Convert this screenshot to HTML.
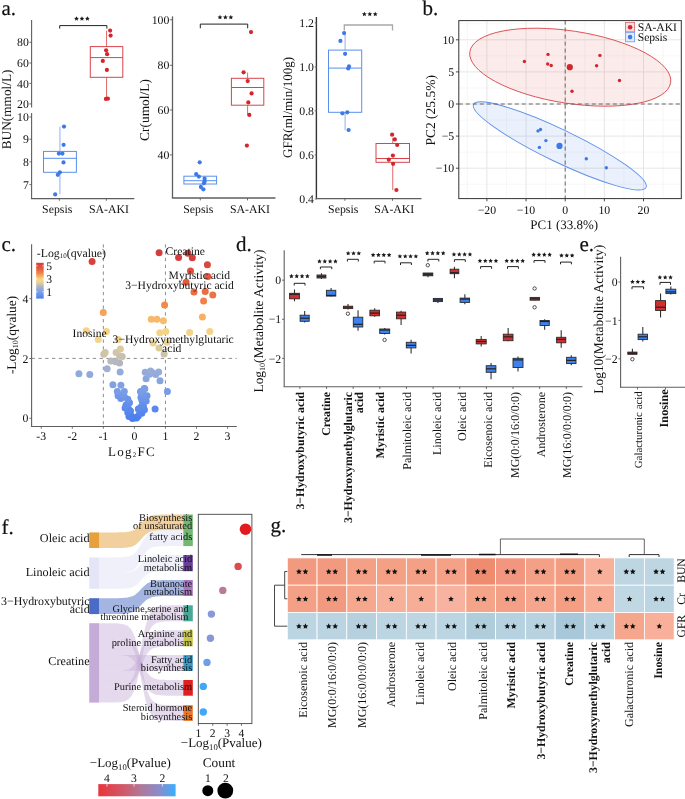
<!DOCTYPE html>
<html><head><meta charset="utf-8"><style>
html,body{margin:0;padding:0;background:#fff;}
svg{display:block;font-family:"Liberation Serif", serif;text-rendering:geometricPrecision;will-change:transform;}
</style></head><body>
<svg width="685" height="799" viewBox="0 0 685 799">
<rect width="685" height="799" fill="#ffffff"/>
<text x="1.50" y="14.60" font-size="21" text-anchor="start" fill="#111111" stroke="#1a1a1a" stroke-width="0.2">a.</text>
<line x1="31.60" y1="20.00" x2="31.60" y2="107.60" stroke="#5e5e5e" stroke-width="1.1"/>
<line x1="31.60" y1="113.10" x2="31.60" y2="198.60" stroke="#5e5e5e" stroke-width="1.1"/>
<line x1="31.00" y1="198.60" x2="134.30" y2="198.60" stroke="#5e5e5e" stroke-width="1.1"/>
<line x1="29.40" y1="42.30" x2="31.60" y2="42.30" stroke="#5e5e5e" stroke-width="0.9"/>
<text x="28.80" y="46.40" font-size="11.8" text-anchor="end" fill="#111111">80</text>
<line x1="29.40" y1="63.00" x2="31.60" y2="63.00" stroke="#5e5e5e" stroke-width="0.9"/>
<text x="28.80" y="67.10" font-size="11.8" text-anchor="end" fill="#111111">60</text>
<line x1="29.40" y1="83.40" x2="31.60" y2="83.40" stroke="#5e5e5e" stroke-width="0.9"/>
<text x="28.80" y="87.50" font-size="11.8" text-anchor="end" fill="#111111">40</text>
<line x1="29.40" y1="103.90" x2="31.60" y2="103.90" stroke="#5e5e5e" stroke-width="0.9"/>
<text x="28.80" y="108.00" font-size="11.8" text-anchor="end" fill="#111111">20</text>
<line x1="29.40" y1="117.00" x2="31.60" y2="117.00" stroke="#5e5e5e" stroke-width="0.9"/>
<text x="28.80" y="121.10" font-size="11.8" text-anchor="end" fill="#111111">10</text>
<line x1="29.40" y1="139.20" x2="31.60" y2="139.20" stroke="#5e5e5e" stroke-width="0.9"/>
<text x="28.80" y="143.30" font-size="11.8" text-anchor="end" fill="#111111">9</text>
<line x1="29.40" y1="161.90" x2="31.60" y2="161.90" stroke="#5e5e5e" stroke-width="0.9"/>
<text x="28.80" y="166.00" font-size="11.8" text-anchor="end" fill="#111111">8</text>
<line x1="29.40" y1="184.60" x2="31.60" y2="184.60" stroke="#5e5e5e" stroke-width="0.9"/>
<text x="28.80" y="188.70" font-size="11.8" text-anchor="end" fill="#111111">7</text>
<line x1="59.30" y1="198.60" x2="59.30" y2="200.80" stroke="#5e5e5e" stroke-width="0.9"/>
<line x1="106.30" y1="198.60" x2="106.30" y2="200.80" stroke="#5e5e5e" stroke-width="0.9"/>
<text x="57.20" y="213.00" font-size="11.8" text-anchor="middle" fill="#111111">Sepsis</text>
<text x="109.00" y="213.00" font-size="11.8" text-anchor="middle" fill="#111111">SA-AKI</text>
<text x="11.20" y="109.40" font-size="13.3" text-anchor="middle" fill="#111111" transform="rotate(-90 11.20 109.40)">BUN(mmol/L)</text>
<line x1="59.95" y1="126.60" x2="59.95" y2="151.40" stroke="#8db0f3" stroke-width="1.0"/>
<line x1="59.95" y1="172.30" x2="59.95" y2="194.40" stroke="#8db0f3" stroke-width="1.0"/>
<rect x="43.50" y="151.40" width="32.90" height="20.90" fill="none" stroke="#5a8fee" stroke-width="1.0"/>
<line x1="43.50" y1="158.30" x2="76.40" y2="158.30" stroke="#5a8fee" stroke-width="1.0"/>
<circle cx="64.00" cy="126.60" r="2.10" fill="#3d7ae6" stroke="none" stroke-width="1"/>
<circle cx="63.60" cy="144.80" r="2.10" fill="#3d7ae6" stroke="none" stroke-width="1"/>
<circle cx="58.90" cy="153.60" r="2.10" fill="#3d7ae6" stroke="none" stroke-width="1"/>
<circle cx="62.40" cy="153.60" r="2.10" fill="#3d7ae6" stroke="none" stroke-width="1"/>
<circle cx="63.50" cy="162.40" r="2.10" fill="#3d7ae6" stroke="none" stroke-width="1"/>
<circle cx="59.90" cy="172.30" r="2.10" fill="#3d7ae6" stroke="none" stroke-width="1"/>
<circle cx="57.80" cy="174.80" r="2.10" fill="#3d7ae6" stroke="none" stroke-width="1"/>
<circle cx="55.20" cy="194.40" r="2.10" fill="#3d7ae6" stroke="none" stroke-width="1"/>
<line x1="106.55" y1="30.70" x2="106.55" y2="46.60" stroke="#e0696d" stroke-width="1.0"/>
<line x1="106.55" y1="77.30" x2="106.55" y2="99.00" stroke="#e0696d" stroke-width="1.0"/>
<rect x="90.30" y="46.60" width="32.50" height="30.70" fill="none" stroke="#d8444a" stroke-width="1.0"/>
<line x1="90.30" y1="57.60" x2="122.80" y2="57.60" stroke="#d8444a" stroke-width="1.0"/>
<circle cx="110.10" cy="30.60" r="2.10" fill="#d3262b" stroke="none" stroke-width="1"/>
<circle cx="110.60" cy="35.60" r="2.10" fill="#d3262b" stroke="none" stroke-width="1"/>
<circle cx="106.10" cy="50.30" r="2.10" fill="#d3262b" stroke="none" stroke-width="1"/>
<circle cx="107.10" cy="54.20" r="2.10" fill="#d3262b" stroke="none" stroke-width="1"/>
<circle cx="102.80" cy="60.90" r="2.10" fill="#d3262b" stroke="none" stroke-width="1"/>
<circle cx="106.90" cy="69.90" r="2.10" fill="#d3262b" stroke="none" stroke-width="1"/>
<circle cx="105.90" cy="98.90" r="2.10" fill="#d3262b" stroke="none" stroke-width="1"/>
<circle cx="107.90" cy="98.70" r="2.10" fill="#d3262b" stroke="none" stroke-width="1"/>
<path d="M59.70,28.60 V25.60 H106.90 V28.60" fill="none" stroke="#222" stroke-width="1.0"/>
<polygon points="76.50,16.15 77.21,17.68 78.88,17.88 77.64,19.02 77.97,20.67 76.50,19.85 75.03,20.67 75.36,19.02 74.12,17.88 75.79,17.68" fill="#1a1a1a"/>
<polygon points="81.95,16.15 82.66,17.68 84.33,17.88 83.09,19.02 83.42,20.67 81.95,19.85 80.48,20.67 80.81,19.02 79.57,17.88 81.24,17.68" fill="#1a1a1a"/>
<polygon points="87.40,16.15 88.11,17.68 89.78,17.88 88.54,19.02 88.87,20.67 87.40,19.85 85.93,20.67 86.26,19.02 85.02,17.88 86.69,17.68" fill="#1a1a1a"/>
<line x1="172.50" y1="16.40" x2="172.50" y2="198.00" stroke="#5e5e5e" stroke-width="1.3"/>
<line x1="171.90" y1="198.00" x2="275.50" y2="198.00" stroke="#5e5e5e" stroke-width="1.3"/>
<line x1="169.80" y1="19.80" x2="172.00" y2="19.80" stroke="#5e5e5e" stroke-width="0.9"/>
<text x="169.40" y="23.90" font-size="11.8" text-anchor="end" fill="#111111">100</text>
<line x1="169.80" y1="65.30" x2="172.00" y2="65.30" stroke="#5e5e5e" stroke-width="0.9"/>
<text x="169.40" y="69.40" font-size="11.8" text-anchor="end" fill="#111111">80</text>
<line x1="169.80" y1="110.00" x2="172.00" y2="110.00" stroke="#5e5e5e" stroke-width="0.9"/>
<text x="169.40" y="114.10" font-size="11.8" text-anchor="end" fill="#111111">60</text>
<line x1="169.80" y1="154.90" x2="172.00" y2="154.90" stroke="#5e5e5e" stroke-width="0.9"/>
<text x="169.40" y="159.00" font-size="11.8" text-anchor="end" fill="#111111">40</text>
<line x1="200.30" y1="198.20" x2="200.30" y2="200.40" stroke="#5e5e5e" stroke-width="0.9"/>
<line x1="247.50" y1="198.20" x2="247.50" y2="200.40" stroke="#5e5e5e" stroke-width="0.9"/>
<text x="198.30" y="213.00" font-size="11.8" text-anchor="middle" fill="#111111">Sepsis</text>
<text x="249.90" y="213.00" font-size="11.8" text-anchor="middle" fill="#111111">SA-AKI</text>
<text x="148.60" y="110.00" font-size="13.4" text-anchor="middle" fill="#111111" transform="rotate(-90 148.60 110.00)">Cr(umol/L)</text>
<line x1="200.25" y1="176.20" x2="200.25" y2="176.20" stroke="#8db0f3" stroke-width="1.0"/>
<line x1="200.25" y1="184.00" x2="200.25" y2="189.30" stroke="#8db0f3" stroke-width="1.0"/>
<rect x="183.90" y="176.20" width="32.70" height="7.80" fill="none" stroke="#5a8fee" stroke-width="1.0"/>
<line x1="183.90" y1="180.70" x2="216.60" y2="180.70" stroke="#5a8fee" stroke-width="1.0"/>
<circle cx="199.70" cy="162.30" r="2.10" fill="#3d7ae6" stroke="none" stroke-width="1"/>
<circle cx="196.20" cy="174.20" r="2.10" fill="#3d7ae6" stroke="none" stroke-width="1"/>
<circle cx="198.90" cy="176.60" r="2.10" fill="#3d7ae6" stroke="none" stroke-width="1"/>
<circle cx="204.60" cy="178.70" r="2.10" fill="#3d7ae6" stroke="none" stroke-width="1"/>
<circle cx="204.60" cy="181.50" r="2.10" fill="#3d7ae6" stroke="none" stroke-width="1"/>
<circle cx="203.90" cy="183.20" r="2.10" fill="#3d7ae6" stroke="none" stroke-width="1"/>
<circle cx="200.90" cy="186.90" r="2.10" fill="#3d7ae6" stroke="none" stroke-width="1"/>
<circle cx="203.40" cy="189.30" r="2.10" fill="#3d7ae6" stroke="none" stroke-width="1"/>
<line x1="247.60" y1="72.60" x2="247.60" y2="78.30" stroke="#e0696d" stroke-width="1.0"/>
<line x1="247.60" y1="105.20" x2="247.60" y2="114.90" stroke="#e0696d" stroke-width="1.0"/>
<rect x="231.40" y="78.30" width="32.40" height="26.90" fill="none" stroke="#d8444a" stroke-width="1.0"/>
<line x1="231.40" y1="87.50" x2="263.80" y2="87.50" stroke="#d8444a" stroke-width="1.0"/>
<circle cx="251.00" cy="32.10" r="2.10" fill="#d3262b" stroke="none" stroke-width="1"/>
<circle cx="243.60" cy="72.30" r="2.10" fill="#d3262b" stroke="none" stroke-width="1"/>
<circle cx="247.70" cy="81.10" r="2.10" fill="#d3262b" stroke="none" stroke-width="1"/>
<circle cx="251.60" cy="93.40" r="2.10" fill="#d3262b" stroke="none" stroke-width="1"/>
<circle cx="248.30" cy="102.40" r="2.10" fill="#d3262b" stroke="none" stroke-width="1"/>
<circle cx="249.30" cy="114.90" r="2.10" fill="#d3262b" stroke="none" stroke-width="1"/>
<circle cx="246.90" cy="145.60" r="2.10" fill="#d3262b" stroke="none" stroke-width="1"/>
<path d="M200.30,28.30 V24.10 H247.70 V28.30" fill="none" stroke="#222" stroke-width="1.0"/>
<polygon points="219.95,14.85 220.66,16.38 222.33,16.58 221.09,17.72 221.42,19.37 219.95,18.55 218.48,19.37 218.81,17.72 217.57,16.58 219.24,16.38" fill="#1a1a1a"/>
<polygon points="225.40,14.85 226.11,16.38 227.78,16.58 226.54,17.72 226.87,19.37 225.40,18.55 223.93,19.37 224.26,17.72 223.02,16.58 224.69,16.38" fill="#1a1a1a"/>
<polygon points="230.85,14.85 231.56,16.38 233.23,16.58 231.99,17.72 232.32,19.37 230.85,18.55 229.38,19.37 229.71,17.72 228.47,16.58 230.14,16.38" fill="#1a1a1a"/>
<line x1="316.40" y1="17.00" x2="316.40" y2="198.60" stroke="#333" stroke-width="1.4"/>
<line x1="316.30" y1="198.60" x2="421.50" y2="198.60" stroke="#5e5e5e" stroke-width="1.1"/>
<line x1="314.70" y1="22.90" x2="316.90" y2="22.90" stroke="#5e5e5e" stroke-width="0.9"/>
<text x="314.00" y="27.00" font-size="11.8" text-anchor="end" fill="#111111">1.2</text>
<line x1="314.70" y1="67.00" x2="316.90" y2="67.00" stroke="#5e5e5e" stroke-width="0.9"/>
<text x="314.00" y="71.10" font-size="11.8" text-anchor="end" fill="#111111">1.0</text>
<line x1="314.70" y1="110.80" x2="316.90" y2="110.80" stroke="#5e5e5e" stroke-width="0.9"/>
<text x="314.00" y="114.90" font-size="11.8" text-anchor="end" fill="#111111">0.8</text>
<line x1="314.70" y1="154.90" x2="316.90" y2="154.90" stroke="#5e5e5e" stroke-width="0.9"/>
<text x="314.00" y="159.00" font-size="11.8" text-anchor="end" fill="#111111">0.6</text>
<line x1="314.70" y1="199.00" x2="316.90" y2="199.00" stroke="#5e5e5e" stroke-width="0.9"/>
<text x="314.00" y="203.10" font-size="11.8" text-anchor="end" fill="#111111">0.4</text>
<line x1="344.90" y1="198.60" x2="344.90" y2="200.80" stroke="#5e5e5e" stroke-width="0.9"/>
<line x1="392.50" y1="198.60" x2="392.50" y2="200.80" stroke="#5e5e5e" stroke-width="0.9"/>
<text x="343.20" y="213.00" font-size="11.8" text-anchor="middle" fill="#111111">Sepsis</text>
<text x="394.30" y="213.00" font-size="11.8" text-anchor="middle" fill="#111111">SA-AKI</text>
<text x="292.00" y="107.40" font-size="13" text-anchor="middle" fill="#111111" transform="rotate(-90 292.00 107.40)">GFR(ml/min/100g)</text>
<line x1="345.10" y1="32.70" x2="345.10" y2="50.10" stroke="#8db0f3" stroke-width="1.0"/>
<line x1="345.10" y1="112.30" x2="345.10" y2="130.20" stroke="#8db0f3" stroke-width="1.0"/>
<rect x="328.50" y="50.10" width="33.20" height="62.20" fill="none" stroke="#5a8fee" stroke-width="1.0"/>
<line x1="328.50" y1="68.10" x2="361.70" y2="68.10" stroke="#5a8fee" stroke-width="1.0"/>
<circle cx="344.10" cy="33.10" r="2.10" fill="#3d7ae6" stroke="none" stroke-width="1"/>
<circle cx="340.40" cy="40.90" r="2.10" fill="#3d7ae6" stroke="none" stroke-width="1"/>
<circle cx="345.10" cy="53.80" r="2.10" fill="#3d7ae6" stroke="none" stroke-width="1"/>
<circle cx="349.00" cy="66.40" r="2.10" fill="#3d7ae6" stroke="none" stroke-width="1"/>
<circle cx="348.20" cy="68.50" r="2.10" fill="#3d7ae6" stroke="none" stroke-width="1"/>
<circle cx="342.40" cy="113.30" r="2.10" fill="#3d7ae6" stroke="none" stroke-width="1"/>
<circle cx="347.30" cy="112.30" r="2.10" fill="#3d7ae6" stroke="none" stroke-width="1"/>
<circle cx="348.60" cy="130.00" r="2.10" fill="#3d7ae6" stroke="none" stroke-width="1"/>
<line x1="392.75" y1="137.80" x2="392.75" y2="143.50" stroke="#e0696d" stroke-width="1.0"/>
<line x1="392.75" y1="162.30" x2="392.75" y2="190.00" stroke="#e0696d" stroke-width="1.0"/>
<rect x="376.00" y="143.50" width="33.50" height="18.80" fill="none" stroke="#d8444a" stroke-width="1.0"/>
<line x1="376.00" y1="158.50" x2="409.50" y2="158.50" stroke="#d8444a" stroke-width="1.0"/>
<circle cx="392.10" cy="134.70" r="2.10" fill="#d3262b" stroke="none" stroke-width="1"/>
<circle cx="394.80" cy="139.40" r="2.10" fill="#d3262b" stroke="none" stroke-width="1"/>
<circle cx="397.20" cy="145.00" r="2.10" fill="#d3262b" stroke="none" stroke-width="1"/>
<circle cx="392.90" cy="155.60" r="2.10" fill="#d3262b" stroke="none" stroke-width="1"/>
<circle cx="388.80" cy="159.70" r="2.10" fill="#d3262b" stroke="none" stroke-width="1"/>
<circle cx="393.10" cy="163.80" r="2.10" fill="#d3262b" stroke="none" stroke-width="1"/>
<circle cx="396.40" cy="190.00" r="2.10" fill="#d3262b" stroke="none" stroke-width="1"/>
<path d="M344.30,30.40 V25.00 H392.50 V30.40" fill="none" stroke="#a8a8a8" stroke-width="1.3"/>
<polygon points="364.35,11.65 365.06,13.18 366.73,13.38 365.49,14.52 365.82,16.17 364.35,15.35 362.88,16.17 363.21,14.52 361.97,13.38 363.64,13.18" fill="#1a1a1a"/>
<polygon points="369.80,11.65 370.51,13.18 372.18,13.38 370.94,14.52 371.27,16.17 369.80,15.35 368.33,16.17 368.66,14.52 367.42,13.38 369.09,13.18" fill="#1a1a1a"/>
<polygon points="375.25,11.65 375.96,13.18 377.63,13.38 376.39,14.52 376.72,16.17 375.25,15.35 373.78,16.17 374.11,14.52 372.87,13.38 374.54,13.18" fill="#1a1a1a"/>
<text x="422.50" y="14.60" font-size="21" text-anchor="start" fill="#111111" stroke="#1a1a1a" stroke-width="0.2">b.</text>
<clipPath id="cb"><rect x="458.8" y="20.6" width="222.49999999999994" height="178.0"/></clipPath>
<rect x="458.80" y="20.60" width="222.50" height="178.00" fill="#ffffff" stroke="none" stroke-width="1"/>
<g clip-path="url(#cb)">
<line x1="467.33" y1="20.60" x2="467.33" y2="198.60" stroke="#f2f2f2" stroke-width="0.6"/>
<line x1="506.48" y1="20.60" x2="506.48" y2="198.60" stroke="#f2f2f2" stroke-width="0.6"/>
<line x1="545.62" y1="20.60" x2="545.62" y2="198.60" stroke="#f2f2f2" stroke-width="0.6"/>
<line x1="584.78" y1="20.60" x2="584.78" y2="198.60" stroke="#f2f2f2" stroke-width="0.6"/>
<line x1="623.93" y1="20.60" x2="623.93" y2="198.60" stroke="#f2f2f2" stroke-width="0.6"/>
<line x1="663.08" y1="20.60" x2="663.08" y2="198.60" stroke="#f2f2f2" stroke-width="0.6"/>
<line x1="458.80" y1="23.75" x2="681.30" y2="23.75" stroke="#f2f2f2" stroke-width="0.6"/>
<line x1="458.80" y1="55.85" x2="681.30" y2="55.85" stroke="#f2f2f2" stroke-width="0.6"/>
<line x1="458.80" y1="87.95" x2="681.30" y2="87.95" stroke="#f2f2f2" stroke-width="0.6"/>
<line x1="458.80" y1="120.05" x2="681.30" y2="120.05" stroke="#f2f2f2" stroke-width="0.6"/>
<line x1="458.80" y1="152.15" x2="681.30" y2="152.15" stroke="#f2f2f2" stroke-width="0.6"/>
<line x1="458.80" y1="184.25" x2="681.30" y2="184.25" stroke="#f2f2f2" stroke-width="0.6"/>
<line x1="486.90" y1="20.60" x2="486.90" y2="198.60" stroke="#e6e6e6" stroke-width="1.0"/>
<line x1="526.05" y1="20.60" x2="526.05" y2="198.60" stroke="#e6e6e6" stroke-width="1.0"/>
<line x1="565.20" y1="20.60" x2="565.20" y2="198.60" stroke="#e6e6e6" stroke-width="1.0"/>
<line x1="604.35" y1="20.60" x2="604.35" y2="198.60" stroke="#e6e6e6" stroke-width="1.0"/>
<line x1="643.50" y1="20.60" x2="643.50" y2="198.60" stroke="#e6e6e6" stroke-width="1.0"/>
<line x1="458.80" y1="39.80" x2="681.30" y2="39.80" stroke="#e6e6e6" stroke-width="1.0"/>
<line x1="458.80" y1="71.90" x2="681.30" y2="71.90" stroke="#e6e6e6" stroke-width="1.0"/>
<line x1="458.80" y1="104.00" x2="681.30" y2="104.00" stroke="#e6e6e6" stroke-width="1.0"/>
<line x1="458.80" y1="136.10" x2="681.30" y2="136.10" stroke="#e6e6e6" stroke-width="1.0"/>
<line x1="458.80" y1="168.20" x2="681.30" y2="168.20" stroke="#e6e6e6" stroke-width="1.0"/>
<ellipse cx="570.25" cy="67.2" rx="101.6" ry="36.2" transform="rotate(8.77 570.25 67.2)" fill="#d3262b" fill-opacity="0.095" stroke="#de4a4e" stroke-width="0.9"/>
<ellipse cx="559.8" cy="145.9" rx="95.7" ry="16.2" transform="rotate(25.7 559.8 145.9)" fill="#3d7ae6" fill-opacity="0.11" stroke="#5b8fea" stroke-width="0.9"/>
<line x1="565.20" y1="20.60" x2="565.20" y2="198.60" stroke="#5a5a5a" stroke-width="0.9" stroke-dasharray="4 3"/>
<line x1="458.80" y1="104.00" x2="681.30" y2="104.00" stroke="#5a5a5a" stroke-width="0.9" stroke-dasharray="4 3"/>
<circle cx="524.40" cy="61.50" r="1.70" fill="#d3262b" stroke="none" stroke-width="1"/>
<circle cx="548.00" cy="54.40" r="1.70" fill="#d3262b" stroke="none" stroke-width="1"/>
<circle cx="547.70" cy="64.00" r="1.70" fill="#d3262b" stroke="none" stroke-width="1"/>
<circle cx="551.20" cy="65.50" r="1.70" fill="#d3262b" stroke="none" stroke-width="1"/>
<circle cx="599.90" cy="55.40" r="1.70" fill="#d3262b" stroke="none" stroke-width="1"/>
<circle cx="596.60" cy="65.80" r="1.70" fill="#d3262b" stroke="none" stroke-width="1"/>
<circle cx="619.50" cy="80.50" r="1.70" fill="#d3262b" stroke="none" stroke-width="1"/>
<circle cx="572.00" cy="91.20" r="1.70" fill="#d3262b" stroke="none" stroke-width="1"/>
<circle cx="569.80" cy="67.20" r="3.10" fill="#d3262b" stroke="none" stroke-width="1"/>
<circle cx="538.00" cy="130.90" r="1.70" fill="#3d7ae6" stroke="none" stroke-width="1"/>
<circle cx="540.50" cy="129.50" r="1.70" fill="#3d7ae6" stroke="none" stroke-width="1"/>
<circle cx="545.90" cy="140.60" r="1.70" fill="#3d7ae6" stroke="none" stroke-width="1"/>
<circle cx="539.40" cy="147.40" r="1.70" fill="#3d7ae6" stroke="none" stroke-width="1"/>
<circle cx="586.30" cy="158.80" r="1.70" fill="#3d7ae6" stroke="none" stroke-width="1"/>
<circle cx="606.30" cy="167.70" r="1.70" fill="#3d7ae6" stroke="none" stroke-width="1"/>
<circle cx="559.50" cy="145.90" r="3.10" fill="#3d7ae6" stroke="none" stroke-width="1"/>
<rect x="625.50" y="22.40" width="9.10" height="9.50" fill="#f9dede" stroke="#e07072" stroke-width="0.9"/>
<circle cx="630.10" cy="27.20" r="2.30" fill="#d3262b" stroke="none" stroke-width="1"/>
<rect x="625.50" y="32.40" width="9.10" height="9.40" fill="#e2eafb" stroke="#7aa4f0" stroke-width="0.9"/>
<circle cx="630.10" cy="37.10" r="2.30" fill="#3d7ae6" stroke="none" stroke-width="1"/>
</g>
<rect x="458.80" y="20.60" width="222.50" height="178.00" fill="none" stroke="#333" stroke-width="1.0"/>
<text x="637.70" y="31.40" font-size="11.6" text-anchor="start" fill="#111111">SA-AKI</text>
<text x="637.70" y="40.60" font-size="11.6" text-anchor="start" fill="#111111">Sepsis</text>
<line x1="455.90" y1="39.80" x2="458.80" y2="39.80" stroke="#333" stroke-width="0.9"/>
<text x="454.20" y="43.90" font-size="11.8" text-anchor="end" fill="#111111">10</text>
<line x1="455.90" y1="71.90" x2="458.80" y2="71.90" stroke="#333" stroke-width="0.9"/>
<text x="454.20" y="76.00" font-size="11.8" text-anchor="end" fill="#111111">5</text>
<line x1="455.90" y1="104.00" x2="458.80" y2="104.00" stroke="#333" stroke-width="0.9"/>
<text x="454.20" y="108.10" font-size="11.8" text-anchor="end" fill="#111111">0</text>
<line x1="455.90" y1="136.10" x2="458.80" y2="136.10" stroke="#333" stroke-width="0.9"/>
<text x="454.20" y="140.20" font-size="11.8" text-anchor="end" fill="#111111">&#8722;5</text>
<line x1="455.90" y1="168.20" x2="458.80" y2="168.20" stroke="#333" stroke-width="0.9"/>
<text x="454.20" y="172.30" font-size="11.8" text-anchor="end" fill="#111111">&#8722;10</text>
<line x1="486.90" y1="198.60" x2="486.90" y2="201.30" stroke="#333" stroke-width="0.9"/>
<text x="486.90" y="213.70" font-size="11.8" text-anchor="middle" fill="#111111">&#8722;20</text>
<line x1="526.05" y1="198.60" x2="526.05" y2="201.30" stroke="#333" stroke-width="0.9"/>
<text x="526.05" y="213.70" font-size="11.8" text-anchor="middle" fill="#111111">&#8722;10</text>
<line x1="565.20" y1="198.60" x2="565.20" y2="201.30" stroke="#333" stroke-width="0.9"/>
<text x="565.20" y="213.70" font-size="11.8" text-anchor="middle" fill="#111111">0</text>
<line x1="604.35" y1="198.60" x2="604.35" y2="201.30" stroke="#333" stroke-width="0.9"/>
<text x="604.35" y="213.70" font-size="11.8" text-anchor="middle" fill="#111111">10</text>
<line x1="643.50" y1="198.60" x2="643.50" y2="201.30" stroke="#333" stroke-width="0.9"/>
<text x="643.50" y="213.70" font-size="11.8" text-anchor="middle" fill="#111111">20</text>
<text x="564.20" y="228.90" font-size="13" text-anchor="middle" fill="#111111">PC1 (33.8%)</text>
<text x="434.70" y="110.30" font-size="13.5" text-anchor="middle" fill="#111111" transform="rotate(-90 434.70 110.30)">PC2 (25.5%)</text>
<text x="1.50" y="250.90" font-size="21" text-anchor="start" fill="#111111" stroke="#1a1a1a" stroke-width="0.2">c.</text>
<line x1="31.60" y1="244.30" x2="31.60" y2="426.50" stroke="#5e5e5e" stroke-width="1.1"/>
<line x1="31.00" y1="426.50" x2="236.80" y2="426.50" stroke="#5e5e5e" stroke-width="1.1"/>
<line x1="29.40" y1="418.30" x2="31.60" y2="418.30" stroke="#5e5e5e" stroke-width="0.9"/>
<text x="28.40" y="422.40" font-size="11.8" text-anchor="end" fill="#111111">0</text>
<line x1="29.40" y1="358.50" x2="31.60" y2="358.50" stroke="#5e5e5e" stroke-width="0.9"/>
<text x="28.40" y="362.60" font-size="11.8" text-anchor="end" fill="#111111">2</text>
<line x1="29.40" y1="298.70" x2="31.60" y2="298.70" stroke="#5e5e5e" stroke-width="0.9"/>
<text x="28.40" y="302.80" font-size="11.8" text-anchor="end" fill="#111111">4</text>
<line x1="41.25" y1="426.50" x2="41.25" y2="428.70" stroke="#5e5e5e" stroke-width="0.9"/>
<text x="41.25" y="440.20" font-size="11.8" text-anchor="middle" fill="#111111">-3</text>
<line x1="72.30" y1="426.50" x2="72.30" y2="428.70" stroke="#5e5e5e" stroke-width="0.9"/>
<text x="72.30" y="440.20" font-size="11.8" text-anchor="middle" fill="#111111">-2</text>
<line x1="103.35" y1="426.50" x2="103.35" y2="428.70" stroke="#5e5e5e" stroke-width="0.9"/>
<text x="103.35" y="440.20" font-size="11.8" text-anchor="middle" fill="#111111">-1</text>
<line x1="134.40" y1="426.50" x2="134.40" y2="428.70" stroke="#5e5e5e" stroke-width="0.9"/>
<text x="134.40" y="440.20" font-size="11.8" text-anchor="middle" fill="#111111">0</text>
<line x1="165.45" y1="426.50" x2="165.45" y2="428.70" stroke="#5e5e5e" stroke-width="0.9"/>
<text x="165.45" y="440.20" font-size="11.8" text-anchor="middle" fill="#111111">1</text>
<line x1="196.50" y1="426.50" x2="196.50" y2="428.70" stroke="#5e5e5e" stroke-width="0.9"/>
<text x="196.50" y="440.20" font-size="11.8" text-anchor="middle" fill="#111111">2</text>
<line x1="227.55" y1="426.50" x2="227.55" y2="428.70" stroke="#5e5e5e" stroke-width="0.9"/>
<text x="227.55" y="440.20" font-size="11.8" text-anchor="middle" fill="#111111">3</text>
<text x="132.00" y="455.80" font-size="13" text-anchor="middle" fill="#111111" letter-spacing="1.3">Log<tspan font-size="7" dy="1.5">2</tspan><tspan dy="-1.5">FC</tspan></text>
<text x="15.80" y="335.00" font-size="13.3" text-anchor="middle" fill="#111111" transform="rotate(-90 15.80 335.00)">-Log<tspan font-size="8" dy="2">10</tspan><tspan dy="-2">(qvalue)</tspan></text>
<line x1="103.35" y1="244.30" x2="103.35" y2="426.50" stroke="#808080" stroke-width="0.9" stroke-dasharray="3.3 3.5"/>
<line x1="165.45" y1="244.30" x2="165.45" y2="426.50" stroke="#808080" stroke-width="0.9" stroke-dasharray="3.3 3.5"/>
<line x1="31.60" y1="358.40" x2="236.80" y2="358.40" stroke="#808080" stroke-width="0.9" stroke-dasharray="3.3 3.5"/>
<circle cx="132.50" cy="418.50" r="3.50" fill="#4a7eef" stroke="none" stroke-width="1"/>
<circle cx="136.50" cy="418.00" r="3.50" fill="#4b7eef" stroke="none" stroke-width="1"/>
<circle cx="134.80" cy="417.70" r="3.50" fill="#4b7fef" stroke="none" stroke-width="1"/>
<circle cx="129.00" cy="416.50" r="3.50" fill="#4d80ee" stroke="none" stroke-width="1"/>
<circle cx="131.30" cy="415.90" r="3.50" fill="#4e81ee" stroke="none" stroke-width="1"/>
<circle cx="138.30" cy="415.90" r="3.50" fill="#4e81ee" stroke="none" stroke-width="1"/>
<circle cx="141.80" cy="413.30" r="3.50" fill="#5384ed" stroke="none" stroke-width="1"/>
<circle cx="127.80" cy="412.40" r="3.50" fill="#5485ed" stroke="none" stroke-width="1"/>
<circle cx="139.80" cy="412.00" r="3.50" fill="#5585ed" stroke="none" stroke-width="1"/>
<circle cx="130.50" cy="411.00" r="3.50" fill="#5686ed" stroke="none" stroke-width="1"/>
<circle cx="144.40" cy="409.80" r="3.50" fill="#5987ec" stroke="none" stroke-width="1"/>
<circle cx="155.10" cy="408.90" r="3.50" fill="#5a88ec" stroke="none" stroke-width="1"/>
<circle cx="128.60" cy="408.90" r="3.50" fill="#5a88ec" stroke="none" stroke-width="1"/>
<circle cx="138.30" cy="408.90" r="3.50" fill="#5a88ec" stroke="none" stroke-width="1"/>
<circle cx="125.10" cy="408.00" r="3.50" fill="#5c89ec" stroke="none" stroke-width="1"/>
<circle cx="141.00" cy="407.00" r="3.50" fill="#5d8beb" stroke="none" stroke-width="1"/>
<circle cx="143.50" cy="406.50" r="3.50" fill="#5e8beb" stroke="none" stroke-width="1"/>
<circle cx="126.00" cy="405.00" r="3.50" fill="#618deb" stroke="none" stroke-width="1"/>
<circle cx="142.70" cy="404.50" r="3.50" fill="#628dea" stroke="none" stroke-width="1"/>
<circle cx="129.50" cy="402.80" r="3.50" fill="#648fea" stroke="none" stroke-width="1"/>
<circle cx="146.20" cy="401.00" r="3.50" fill="#6891e9" stroke="none" stroke-width="1"/>
<circle cx="142.00" cy="400.50" r="3.50" fill="#6892e9" stroke="none" stroke-width="1"/>
<circle cx="127.80" cy="399.30" r="3.50" fill="#6a93e9" stroke="none" stroke-width="1"/>
<circle cx="120.80" cy="398.40" r="3.50" fill="#6c94e8" stroke="none" stroke-width="1"/>
<circle cx="145.50" cy="398.00" r="3.50" fill="#6d95e8" stroke="none" stroke-width="1"/>
<circle cx="140.90" cy="397.50" r="3.50" fill="#6e95e8" stroke="none" stroke-width="1"/>
<circle cx="124.50" cy="397.00" r="3.50" fill="#6e96e8" stroke="none" stroke-width="1"/>
<circle cx="118.10" cy="395.80" r="3.50" fill="#7097e7" stroke="none" stroke-width="1"/>
<circle cx="147.00" cy="395.80" r="3.50" fill="#7097e7" stroke="none" stroke-width="1"/>
<circle cx="122.50" cy="394.50" r="3.50" fill="#7399e7" stroke="none" stroke-width="1"/>
<circle cx="143.00" cy="394.00" r="3.50" fill="#7499e7" stroke="none" stroke-width="1"/>
<circle cx="140.50" cy="391.80" r="3.50" fill="#779ce6" stroke="none" stroke-width="1"/>
<circle cx="167.40" cy="391.50" r="3.50" fill="#789ce6" stroke="none" stroke-width="1"/>
<circle cx="117.30" cy="391.40" r="3.50" fill="#789ce6" stroke="none" stroke-width="1"/>
<circle cx="124.30" cy="391.40" r="3.50" fill="#789ce6" stroke="none" stroke-width="1"/>
<circle cx="140.90" cy="391.40" r="3.50" fill="#789ce6" stroke="none" stroke-width="1"/>
<circle cx="144.80" cy="388.80" r="3.50" fill="#7c9ee4" stroke="none" stroke-width="1"/>
<circle cx="144.30" cy="388.60" r="3.50" fill="#7c9ee4" stroke="none" stroke-width="1"/>
<circle cx="120.90" cy="385.30" r="3.50" fill="#81a1e2" stroke="none" stroke-width="1"/>
<circle cx="112.90" cy="384.80" r="3.50" fill="#82a1e2" stroke="none" stroke-width="1"/>
<circle cx="160.00" cy="380.70" r="3.50" fill="#88a4df" stroke="none" stroke-width="1"/>
<circle cx="146.10" cy="378.70" r="3.50" fill="#8ba6de" stroke="none" stroke-width="1"/>
<circle cx="155.70" cy="374.60" r="3.50" fill="#91a9dc" stroke="none" stroke-width="1"/>
<circle cx="89.80" cy="374.40" r="3.50" fill="#91a9dc" stroke="none" stroke-width="1"/>
<circle cx="149.60" cy="374.30" r="3.50" fill="#92a9db" stroke="none" stroke-width="1"/>
<circle cx="78.90" cy="373.70" r="3.50" fill="#92aadb" stroke="none" stroke-width="1"/>
<circle cx="152.20" cy="372.60" r="3.50" fill="#94abda" stroke="none" stroke-width="1"/>
<circle cx="145.20" cy="372.30" r="3.50" fill="#94abda" stroke="none" stroke-width="1"/>
<circle cx="120.10" cy="372.00" r="3.50" fill="#95abda" stroke="none" stroke-width="1"/>
<circle cx="158.60" cy="372.00" r="3.50" fill="#95abda" stroke="none" stroke-width="1"/>
<circle cx="150.50" cy="371.10" r="3.50" fill="#98acd8" stroke="none" stroke-width="1"/>
<circle cx="107.10" cy="368.80" r="3.50" fill="#a0afd2" stroke="none" stroke-width="1"/>
<circle cx="119.60" cy="363.10" r="3.50" fill="#b3b6c2" stroke="none" stroke-width="1"/>
<circle cx="115.70" cy="361.70" r="3.50" fill="#b7b8bf" stroke="none" stroke-width="1"/>
<circle cx="110.80" cy="361.00" r="3.50" fill="#b9b9bd" stroke="none" stroke-width="1"/>
<circle cx="122.20" cy="356.40" r="3.50" fill="#c6bfb0" stroke="none" stroke-width="1"/>
<circle cx="119.60" cy="356.00" r="3.50" fill="#c7c0af" stroke="none" stroke-width="1"/>
<circle cx="103.80" cy="354.30" r="3.50" fill="#cbc2ab" stroke="none" stroke-width="1"/>
<circle cx="164.10" cy="354.00" r="3.50" fill="#ccc3aa" stroke="none" stroke-width="1"/>
<circle cx="105.20" cy="352.60" r="3.50" fill="#d0c5a6" stroke="none" stroke-width="1"/>
<circle cx="116.10" cy="352.60" r="3.50" fill="#d0c5a6" stroke="none" stroke-width="1"/>
<circle cx="120.40" cy="349.00" r="3.50" fill="#daca9e" stroke="none" stroke-width="1"/>
<circle cx="159.00" cy="347.90" r="3.50" fill="#ddcb9c" stroke="none" stroke-width="1"/>
<circle cx="153.00" cy="343.00" r="3.50" fill="#ebd291" stroke="none" stroke-width="1"/>
<circle cx="167.00" cy="342.30" r="3.50" fill="#edd390" stroke="none" stroke-width="1"/>
<circle cx="98.20" cy="339.40" r="3.50" fill="#f2d58b" stroke="none" stroke-width="1"/>
<circle cx="118.30" cy="339.40" r="3.50" fill="#f2d58b" stroke="none" stroke-width="1"/>
<circle cx="159.80" cy="332.80" r="3.50" fill="#f5d386" stroke="none" stroke-width="1"/>
<circle cx="189.60" cy="332.40" r="3.50" fill="#f5d385" stroke="none" stroke-width="1"/>
<circle cx="106.40" cy="331.50" r="3.50" fill="#f5d384" stroke="none" stroke-width="1"/>
<circle cx="165.80" cy="331.40" r="3.50" fill="#f5d384" stroke="none" stroke-width="1"/>
<circle cx="209.80" cy="331.40" r="3.50" fill="#f5d384" stroke="none" stroke-width="1"/>
<circle cx="86.30" cy="330.70" r="3.50" fill="#f5d384" stroke="none" stroke-width="1"/>
<circle cx="163.40" cy="320.80" r="3.50" fill="#f7bc6d" stroke="none" stroke-width="1"/>
<circle cx="151.30" cy="319.30" r="3.50" fill="#f8b869" stroke="none" stroke-width="1"/>
<circle cx="156.90" cy="319.30" r="3.50" fill="#f8b869" stroke="none" stroke-width="1"/>
<circle cx="202.40" cy="317.10" r="3.50" fill="#f8b163" stroke="none" stroke-width="1"/>
<circle cx="103.30" cy="312.60" r="3.50" fill="#f6a35a" stroke="none" stroke-width="1"/>
<circle cx="164.60" cy="305.00" r="3.50" fill="#f28a4b" stroke="none" stroke-width="1"/>
<circle cx="203.60" cy="301.10" r="3.50" fill="#f08148" stroke="none" stroke-width="1"/>
<circle cx="212.80" cy="294.90" r="3.50" fill="#ec7444" stroke="none" stroke-width="1"/>
<circle cx="194.00" cy="291.90" r="3.50" fill="#eb6e43" stroke="none" stroke-width="1"/>
<circle cx="205.20" cy="291.60" r="3.50" fill="#eb6d43" stroke="none" stroke-width="1"/>
<circle cx="186.10" cy="282.30" r="3.50" fill="#e55a3e" stroke="none" stroke-width="1"/>
<circle cx="207.80" cy="276.50" r="3.50" fill="#e1543e" stroke="none" stroke-width="1"/>
<circle cx="190.50" cy="270.90" r="3.50" fill="#dd4e3e" stroke="none" stroke-width="1"/>
<circle cx="207.40" cy="264.70" r="3.50" fill="#d9473e" stroke="none" stroke-width="1"/>
<circle cx="92.10" cy="261.60" r="3.50" fill="#d6433e" stroke="none" stroke-width="1"/>
<circle cx="192.30" cy="257.70" r="3.50" fill="#d43f3e" stroke="none" stroke-width="1"/>
<circle cx="178.60" cy="257.50" r="3.50" fill="#d43e3e" stroke="none" stroke-width="1"/>
<circle cx="187.80" cy="253.30" r="3.50" fill="#d23c3e" stroke="none" stroke-width="1"/>
<circle cx="159.10" cy="252.70" r="3.50" fill="#d23c3e" stroke="none" stroke-width="1"/>
<text x="165.60" y="254.90" font-size="11.6" text-anchor="start" fill="#111111">Creatine</text>
<text x="168.60" y="279.20" font-size="11.6" text-anchor="start" fill="#111111">Myristic acid</text>
<text x="125.20" y="288.70" font-size="11.6" text-anchor="start" fill="#111111">3&#8722;Hydroxybutyric acid</text>
<text x="72.60" y="336.80" font-size="11.6" text-anchor="start" fill="#111111">Inosine</text>
<text x="112.60" y="342.90" font-size="11.6" text-anchor="start" fill="#111111">3&#8722;Hydroxymethylglutaric</text>
<text x="162.10" y="352.40" font-size="11.6" text-anchor="start" fill="#111111">acid</text>
<text x="36.80" y="256.70" font-size="11.8" text-anchor="start" fill="#111111">-Log<tspan font-size="7" dy="0.8">10</tspan><tspan dy="-0.8">(qvalue)</tspan></text>
<linearGradient id="gq" x1="0" y1="1" x2="0" y2="0"><stop offset="0.000" stop-color="#4a7eef"/><stop offset="0.166" stop-color="#789ce6"/><stop offset="0.285" stop-color="#95abda"/><stop offset="0.350" stop-color="#b8b8be"/><stop offset="0.405" stop-color="#d0c5a6"/><stop offset="0.479" stop-color="#f2d58c"/><stop offset="0.552" stop-color="#f6d282"/><stop offset="0.626" stop-color="#f8b062"/><stop offset="0.700" stop-color="#f2894a"/><stop offset="0.829" stop-color="#e65c3e"/><stop offset="1.000" stop-color="#d23d3e"/></linearGradient>
<rect x="36.20" y="262.80" width="7.50" height="35.80" fill="url(#gq)" stroke="none" stroke-width="1"/>
<line x1="36.20" y1="265.80" x2="37.60" y2="265.80" stroke="#ffffff" stroke-width="0.7"/>
<line x1="42.30" y1="265.80" x2="43.70" y2="265.80" stroke="#ffffff" stroke-width="0.7"/>
<text x="46.20" y="269.80" font-size="11.6" text-anchor="start" fill="#111111">5</text>
<line x1="36.20" y1="278.80" x2="37.60" y2="278.80" stroke="#ffffff" stroke-width="0.7"/>
<line x1="42.30" y1="278.80" x2="43.70" y2="278.80" stroke="#ffffff" stroke-width="0.7"/>
<text x="46.20" y="282.80" font-size="11.6" text-anchor="start" fill="#111111">3</text>
<line x1="36.20" y1="291.80" x2="37.60" y2="291.80" stroke="#ffffff" stroke-width="0.7"/>
<line x1="42.30" y1="291.80" x2="43.70" y2="291.80" stroke="#ffffff" stroke-width="0.7"/>
<text x="46.20" y="295.80" font-size="11.6" text-anchor="start" fill="#111111">1</text>
<text x="236.00" y="250.90" font-size="21" text-anchor="start" fill="#111111" stroke="#1a1a1a" stroke-width="0.2">d.</text>
<line x1="284.20" y1="250.20" x2="284.20" y2="386.80" stroke="#5e5e5e" stroke-width="1.1"/>
<line x1="283.60" y1="386.80" x2="582.40" y2="386.80" stroke="#5e5e5e" stroke-width="1.1"/>
<line x1="282.00" y1="280.20" x2="284.20" y2="280.20" stroke="#5e5e5e" stroke-width="0.9"/>
<text x="281.20" y="284.30" font-size="11.8" text-anchor="end" fill="#111111">0</text>
<line x1="282.00" y1="319.30" x2="284.20" y2="319.30" stroke="#5e5e5e" stroke-width="0.9"/>
<text x="281.20" y="323.40" font-size="11.8" text-anchor="end" fill="#111111">&#8722;1</text>
<line x1="282.00" y1="358.40" x2="284.20" y2="358.40" stroke="#5e5e5e" stroke-width="0.9"/>
<text x="281.20" y="362.50" font-size="11.8" text-anchor="end" fill="#111111">&#8722;2</text>
<text x="262.60" y="321.00" font-size="13.4" text-anchor="middle" fill="#111111" transform="rotate(-90 262.60 321.00)">Log<tspan font-size="8" dy="2">10</tspan><tspan dy="-2">(Metabolite Activity)</tspan></text>
<line x1="294.50" y1="289.40" x2="294.50" y2="301.30" stroke="#333" stroke-width="1.1"/>
<rect x="289.60" y="293.30" width="9.80" height="5.50" fill="#d42d2d" stroke="#2a2a2a" stroke-width="0.9"/>
<line x1="289.60" y1="294.30" x2="299.40" y2="294.30" stroke="#222" stroke-width="1.2"/>
<line x1="304.65" y1="311.00" x2="304.65" y2="322.50" stroke="#333" stroke-width="1.1"/>
<rect x="300.10" y="315.20" width="9.10" height="6.10" fill="#3c82f0" stroke="#2a2a2a" stroke-width="0.9"/>
<line x1="300.10" y1="318.20" x2="309.20" y2="318.20" stroke="#222" stroke-width="1.2"/>
<line x1="321.45" y1="273.30" x2="321.45" y2="279.00" stroke="#333" stroke-width="1.1"/>
<rect x="317.00" y="275.00" width="8.90" height="3.00" fill="#a02a2a" stroke="#2a2a2a" stroke-width="0.9"/>
<line x1="317.00" y1="276.50" x2="325.90" y2="276.50" stroke="#222" stroke-width="0.8"/>
<line x1="331.10" y1="288.00" x2="331.10" y2="296.50" stroke="#333" stroke-width="1.1"/>
<rect x="326.40" y="290.30" width="9.40" height="5.80" fill="#3c82f0" stroke="#2a2a2a" stroke-width="0.9"/>
<line x1="326.40" y1="295.40" x2="335.80" y2="295.40" stroke="#222" stroke-width="1.2"/>
<line x1="348.05" y1="304.10" x2="348.05" y2="309.50" stroke="#333" stroke-width="1.1"/>
<rect x="343.40" y="306.20" width="9.30" height="2.40" fill="#b83030" stroke="#2a2a2a" stroke-width="0.9"/>
<line x1="343.40" y1="307.30" x2="352.70" y2="307.30" stroke="#222" stroke-width="0.8"/>
<circle cx="347.90" cy="313.70" r="1.70" fill="none" stroke="#333" stroke-width="0.85"/>
<line x1="358.05" y1="310.20" x2="358.05" y2="330.70" stroke="#333" stroke-width="1.1"/>
<rect x="353.30" y="317.20" width="9.50" height="9.80" fill="#3c82f0" stroke="#2a2a2a" stroke-width="0.9"/>
<line x1="353.30" y1="324.30" x2="362.80" y2="324.30" stroke="#222" stroke-width="1.2"/>
<line x1="374.70" y1="308.20" x2="374.70" y2="316.80" stroke="#333" stroke-width="1.1"/>
<rect x="369.90" y="310.20" width="9.60" height="5.60" fill="#d42d2d" stroke="#2a2a2a" stroke-width="0.9"/>
<line x1="369.90" y1="313.10" x2="379.50" y2="313.10" stroke="#222" stroke-width="1.2"/>
<line x1="384.70" y1="328.00" x2="384.70" y2="334.50" stroke="#333" stroke-width="1.1"/>
<rect x="379.70" y="329.00" width="10.00" height="4.50" fill="#3c82f0" stroke="#2a2a2a" stroke-width="0.9"/>
<line x1="379.70" y1="330.00" x2="389.70" y2="330.00" stroke="#222" stroke-width="1.2"/>
<circle cx="384.60" cy="339.90" r="1.70" fill="none" stroke="#333" stroke-width="0.85"/>
<line x1="401.10" y1="310.70" x2="401.10" y2="325.00" stroke="#333" stroke-width="1.1"/>
<rect x="396.50" y="312.10" width="9.20" height="6.70" fill="#d42d2d" stroke="#2a2a2a" stroke-width="0.9"/>
<line x1="396.50" y1="315.20" x2="405.70" y2="315.20" stroke="#222" stroke-width="1.2"/>
<line x1="411.10" y1="339.70" x2="411.10" y2="353.60" stroke="#333" stroke-width="1.1"/>
<rect x="406.30" y="342.30" width="9.60" height="5.60" fill="#3c82f0" stroke="#2a2a2a" stroke-width="0.9"/>
<line x1="406.30" y1="345.40" x2="415.90" y2="345.40" stroke="#222" stroke-width="1.2"/>
<line x1="427.95" y1="273.00" x2="427.95" y2="277.30" stroke="#333" stroke-width="1.1"/>
<rect x="423.10" y="273.00" width="9.70" height="2.80" fill="#3a3a3a" stroke="#2a2a2a" stroke-width="0.9"/>
<line x1="423.10" y1="274.40" x2="432.80" y2="274.40" stroke="#222" stroke-width="0.8"/>
<circle cx="427.80" cy="265.20" r="1.70" fill="none" stroke="#333" stroke-width="0.85"/>
<line x1="437.90" y1="298.00" x2="437.90" y2="303.00" stroke="#333" stroke-width="1.1"/>
<rect x="433.30" y="298.40" width="9.20" height="3.20" fill="#3a5c9e" stroke="#2a2a2a" stroke-width="0.9"/>
<line x1="433.30" y1="300.00" x2="442.50" y2="300.00" stroke="#222" stroke-width="1.2"/>
<line x1="454.45" y1="266.80" x2="454.45" y2="278.20" stroke="#333" stroke-width="1.1"/>
<rect x="450.10" y="269.20" width="8.70" height="4.50" fill="#d42d2d" stroke="#2a2a2a" stroke-width="0.9"/>
<line x1="450.10" y1="272.70" x2="458.80" y2="272.70" stroke="#222" stroke-width="1.2"/>
<line x1="464.85" y1="294.30" x2="464.85" y2="304.30" stroke="#333" stroke-width="1.1"/>
<rect x="460.10" y="298.10" width="9.50" height="4.30" fill="#3c82f0" stroke="#2a2a2a" stroke-width="0.9"/>
<line x1="460.10" y1="299.10" x2="469.60" y2="299.10" stroke="#222" stroke-width="1.2"/>
<line x1="481.20" y1="336.00" x2="481.20" y2="346.50" stroke="#333" stroke-width="1.1"/>
<rect x="476.20" y="339.40" width="10.00" height="4.50" fill="#d42d2d" stroke="#2a2a2a" stroke-width="0.9"/>
<line x1="476.20" y1="341.50" x2="486.20" y2="341.50" stroke="#222" stroke-width="1.2"/>
<line x1="491.05" y1="363.00" x2="491.05" y2="379.30" stroke="#333" stroke-width="1.1"/>
<rect x="486.20" y="365.70" width="9.70" height="6.60" fill="#3c82f0" stroke="#2a2a2a" stroke-width="0.9"/>
<line x1="486.20" y1="368.80" x2="495.90" y2="368.80" stroke="#222" stroke-width="1.2"/>
<line x1="508.15" y1="328.10" x2="508.15" y2="341.30" stroke="#333" stroke-width="1.1"/>
<rect x="503.30" y="334.20" width="9.70" height="6.50" fill="#d42d2d" stroke="#2a2a2a" stroke-width="0.9"/>
<line x1="503.30" y1="336.80" x2="513.00" y2="336.80" stroke="#222" stroke-width="1.2"/>
<line x1="518.00" y1="356.50" x2="518.00" y2="371.50" stroke="#333" stroke-width="1.1"/>
<rect x="513.00" y="358.30" width="10.00" height="9.20" fill="#3c82f0" stroke="#2a2a2a" stroke-width="0.9"/>
<line x1="513.00" y1="359.90" x2="523.00" y2="359.90" stroke="#222" stroke-width="1.2"/>
<line x1="534.80" y1="297.40" x2="534.80" y2="300.20" stroke="#333" stroke-width="1.1"/>
<rect x="530.10" y="297.40" width="9.40" height="2.80" fill="#d42d2d" stroke="#2a2a2a" stroke-width="0.9"/>
<line x1="530.10" y1="298.80" x2="539.50" y2="298.80" stroke="#222" stroke-width="1.2"/>
<circle cx="534.60" cy="288.50" r="1.70" fill="none" stroke="#333" stroke-width="0.85"/>
<circle cx="534.60" cy="307.30" r="1.70" fill="none" stroke="#333" stroke-width="0.85"/>
<line x1="544.65" y1="319.20" x2="544.65" y2="329.70" stroke="#333" stroke-width="1.1"/>
<rect x="540.00" y="320.50" width="9.30" height="5.00" fill="#3c82f0" stroke="#2a2a2a" stroke-width="0.9"/>
<line x1="540.00" y1="321.50" x2="549.30" y2="321.50" stroke="#222" stroke-width="1.2"/>
<line x1="561.20" y1="330.20" x2="561.20" y2="347.80" stroke="#333" stroke-width="1.1"/>
<rect x="556.60" y="337.30" width="9.20" height="5.50" fill="#d42d2d" stroke="#2a2a2a" stroke-width="0.9"/>
<line x1="556.60" y1="339.40" x2="565.80" y2="339.40" stroke="#222" stroke-width="1.2"/>
<line x1="571.30" y1="355.20" x2="571.30" y2="365.20" stroke="#333" stroke-width="1.1"/>
<rect x="566.60" y="357.30" width="9.40" height="6.30" fill="#3c82f0" stroke="#2a2a2a" stroke-width="0.9"/>
<line x1="566.60" y1="360.40" x2="576.00" y2="360.40" stroke="#222" stroke-width="1.2"/>
<line x1="299.90" y1="386.80" x2="299.90" y2="389.00" stroke="#5e5e5e" stroke-width="0.9"/>
<line x1="326.54" y1="386.80" x2="326.54" y2="389.00" stroke="#5e5e5e" stroke-width="0.9"/>
<line x1="353.18" y1="386.80" x2="353.18" y2="389.00" stroke="#5e5e5e" stroke-width="0.9"/>
<line x1="379.82" y1="386.80" x2="379.82" y2="389.00" stroke="#5e5e5e" stroke-width="0.9"/>
<line x1="406.46" y1="386.80" x2="406.46" y2="389.00" stroke="#5e5e5e" stroke-width="0.9"/>
<line x1="433.10" y1="386.80" x2="433.10" y2="389.00" stroke="#5e5e5e" stroke-width="0.9"/>
<line x1="459.74" y1="386.80" x2="459.74" y2="389.00" stroke="#5e5e5e" stroke-width="0.9"/>
<line x1="486.38" y1="386.80" x2="486.38" y2="389.00" stroke="#5e5e5e" stroke-width="0.9"/>
<line x1="513.02" y1="386.80" x2="513.02" y2="389.00" stroke="#5e5e5e" stroke-width="0.9"/>
<line x1="539.66" y1="386.80" x2="539.66" y2="389.00" stroke="#5e5e5e" stroke-width="0.9"/>
<line x1="566.30" y1="386.80" x2="566.30" y2="389.00" stroke="#5e5e5e" stroke-width="0.9"/>
<path d="M294.20,285.50 V283.30 H305.00 V285.50" fill="none" stroke="#222" stroke-width="1.0"/>
<polygon points="291.40,273.84 292.08,275.31 293.69,275.50 292.50,276.60 292.82,278.18 291.40,277.39 289.99,278.18 290.31,276.60 289.12,275.50 290.73,275.31" fill="#1a1a1a"/>
<polygon points="296.73,273.84 297.41,275.31 299.02,275.50 297.83,276.60 298.15,278.18 296.73,277.39 295.32,278.18 295.64,276.60 294.45,275.50 296.06,275.31" fill="#1a1a1a"/>
<polygon points="302.06,273.84 302.74,275.31 304.35,275.50 303.16,276.60 303.48,278.18 302.06,277.39 300.65,278.18 300.97,276.60 299.78,275.50 301.39,275.31" fill="#1a1a1a"/>
<polygon points="307.39,273.84 308.07,275.31 309.68,275.50 308.49,276.60 308.81,278.18 307.39,277.39 305.98,278.18 306.30,276.60 305.11,275.50 306.72,275.31" fill="#1a1a1a"/>
<path d="M320.40,269.20 V267.00 H331.80 V269.20" fill="none" stroke="#222" stroke-width="1.0"/>
<polygon points="319.45,259.04 320.13,260.51 321.74,260.70 320.55,261.80 320.87,263.38 319.45,262.59 318.04,263.38 318.36,261.80 317.17,260.70 318.78,260.51" fill="#1a1a1a"/>
<polygon points="324.78,259.04 325.46,260.51 327.07,260.70 325.88,261.80 326.20,263.38 324.78,262.59 323.37,263.38 323.69,261.80 322.50,260.70 324.11,260.51" fill="#1a1a1a"/>
<polygon points="330.12,259.04 330.79,260.51 332.40,260.70 331.21,261.80 331.53,263.38 330.12,262.59 328.70,263.38 329.02,261.80 327.83,260.70 329.44,260.51" fill="#1a1a1a"/>
<polygon points="335.44,259.04 336.12,260.51 337.73,260.70 336.54,261.80 336.86,263.38 335.44,262.59 334.03,263.38 334.35,261.80 333.16,260.70 334.77,260.51" fill="#1a1a1a"/>
<path d="M347.40,261.50 V259.30 H358.30 V261.50" fill="none" stroke="#222" stroke-width="1.0"/>
<polygon points="348.17,250.94 348.85,252.41 350.45,252.60 349.27,253.70 349.58,255.28 348.17,254.49 346.76,255.28 347.07,253.70 345.89,252.60 347.49,252.41" fill="#1a1a1a"/>
<polygon points="353.50,250.94 354.18,252.41 355.78,252.60 354.60,253.70 354.91,255.28 353.50,254.49 352.09,255.28 352.40,253.70 351.22,252.60 352.82,252.41" fill="#1a1a1a"/>
<polygon points="358.83,250.94 359.51,252.41 361.11,252.60 359.93,253.70 360.24,255.28 358.83,254.49 357.42,255.28 357.73,253.70 356.55,252.60 358.15,252.41" fill="#1a1a1a"/>
<path d="M374.20,263.40 V261.20 H385.00 V263.40" fill="none" stroke="#222" stroke-width="1.0"/>
<polygon points="373.11,252.64 373.78,254.11 375.39,254.30 374.20,255.40 374.52,256.98 373.11,256.19 371.69,256.98 372.01,255.40 370.82,254.30 372.43,254.11" fill="#1a1a1a"/>
<polygon points="378.44,252.64 379.11,254.11 380.72,254.30 379.53,255.40 379.85,256.98 378.44,256.19 377.02,256.98 377.34,255.40 376.15,254.30 377.76,254.11" fill="#1a1a1a"/>
<polygon points="383.77,252.64 384.44,254.11 386.05,254.30 384.86,255.40 385.18,256.98 383.77,256.19 382.35,256.98 382.67,255.40 381.48,254.30 383.09,254.11" fill="#1a1a1a"/>
<polygon points="389.10,252.64 389.77,254.11 391.38,254.30 390.19,255.40 390.51,256.98 389.10,256.19 387.68,256.98 388.00,255.40 386.81,254.30 388.42,254.11" fill="#1a1a1a"/>
<path d="M400.50,265.00 V262.80 H411.40 V265.00" fill="none" stroke="#222" stroke-width="1.0"/>
<polygon points="399.90,253.94 400.58,255.41 402.19,255.60 401.00,256.70 401.32,258.28 399.90,257.49 398.49,258.28 398.81,256.70 397.62,255.60 399.23,255.41" fill="#1a1a1a"/>
<polygon points="405.23,253.94 405.91,255.41 407.52,255.60 406.33,256.70 406.65,258.28 405.23,257.49 403.82,258.28 404.14,256.70 402.95,255.60 404.56,255.41" fill="#1a1a1a"/>
<polygon points="410.56,253.94 411.24,255.41 412.85,255.60 411.66,256.70 411.98,258.28 410.56,257.49 409.15,258.28 409.47,256.70 408.28,255.60 409.89,255.41" fill="#1a1a1a"/>
<polygon points="415.89,253.94 416.57,255.41 418.18,255.60 416.99,256.70 417.31,258.28 415.89,257.49 414.48,258.28 414.80,256.70 413.61,255.60 415.22,255.41" fill="#1a1a1a"/>
<path d="M427.90,261.50 V259.30 H438.80 V261.50" fill="none" stroke="#222" stroke-width="1.0"/>
<polygon points="427.20,250.84 427.88,252.31 429.49,252.50 428.30,253.60 428.62,255.18 427.20,254.39 425.79,255.18 426.11,253.60 424.92,252.50 426.53,252.31" fill="#1a1a1a"/>
<polygon points="432.53,250.84 433.21,252.31 434.82,252.50 433.63,253.60 433.95,255.18 432.53,254.39 431.12,255.18 431.44,253.60 430.25,252.50 431.86,252.31" fill="#1a1a1a"/>
<polygon points="437.87,250.84 438.54,252.31 440.15,252.50 438.96,253.60 439.28,255.18 437.87,254.39 436.45,255.18 436.77,253.60 435.58,252.50 437.19,252.31" fill="#1a1a1a"/>
<polygon points="443.19,250.84 443.87,252.31 445.48,252.50 444.29,253.60 444.61,255.18 443.19,254.39 441.78,255.18 442.10,253.60 440.91,252.50 442.52,252.31" fill="#1a1a1a"/>
<path d="M454.40,261.90 V259.70 H465.30 V261.90" fill="none" stroke="#222" stroke-width="1.0"/>
<polygon points="453.95,252.04 454.63,253.51 456.24,253.70 455.05,254.80 455.37,256.38 453.95,255.59 452.54,256.38 452.86,254.80 451.67,253.70 453.28,253.51" fill="#1a1a1a"/>
<polygon points="459.28,252.04 459.96,253.51 461.57,253.70 460.38,254.80 460.70,256.38 459.28,255.59 457.87,256.38 458.19,254.80 457.00,253.70 458.61,253.51" fill="#1a1a1a"/>
<polygon points="464.62,252.04 465.29,253.51 466.90,253.70 465.71,254.80 466.03,256.38 464.62,255.59 463.20,256.38 463.52,254.80 462.33,253.70 463.94,253.51" fill="#1a1a1a"/>
<polygon points="469.94,252.04 470.62,253.51 472.23,253.70 471.04,254.80 471.36,256.38 469.94,255.59 468.53,256.38 468.85,254.80 467.66,253.70 469.27,253.51" fill="#1a1a1a"/>
<path d="M480.60,268.80 V266.60 H491.60 V268.80" fill="none" stroke="#222" stroke-width="1.0"/>
<polygon points="479.95,258.54 480.63,260.01 482.24,260.20 481.05,261.30 481.37,262.88 479.95,262.09 478.54,262.88 478.86,261.30 477.67,260.20 479.28,260.01" fill="#1a1a1a"/>
<polygon points="485.28,258.54 485.96,260.01 487.57,260.20 486.38,261.30 486.70,262.88 485.28,262.09 483.87,262.88 484.19,261.30 483.00,260.20 484.61,260.01" fill="#1a1a1a"/>
<polygon points="490.62,258.54 491.29,260.01 492.90,260.20 491.71,261.30 492.03,262.88 490.62,262.09 489.20,262.88 489.52,261.30 488.33,260.20 489.94,260.01" fill="#1a1a1a"/>
<polygon points="495.94,258.54 496.62,260.01 498.23,260.20 497.04,261.30 497.36,262.88 495.94,262.09 494.53,262.88 494.85,261.30 493.66,260.20 495.27,260.01" fill="#1a1a1a"/>
<path d="M507.50,268.80 V266.60 H518.40 V268.80" fill="none" stroke="#222" stroke-width="1.0"/>
<polygon points="506.71,258.54 507.38,260.01 508.99,260.20 507.80,261.30 508.12,262.88 506.71,262.09 505.29,262.88 505.61,261.30 504.42,260.20 506.03,260.01" fill="#1a1a1a"/>
<polygon points="512.04,258.54 512.71,260.01 514.32,260.20 513.13,261.30 513.45,262.88 512.04,262.09 510.62,262.88 510.94,261.30 509.75,260.20 511.36,260.01" fill="#1a1a1a"/>
<polygon points="517.37,258.54 518.04,260.01 519.65,260.20 518.46,261.30 518.78,262.88 517.37,262.09 515.95,262.88 516.27,261.30 515.08,260.20 516.69,260.01" fill="#1a1a1a"/>
<polygon points="522.70,258.54 523.37,260.01 524.98,260.20 523.79,261.30 524.11,262.88 522.70,262.09 521.28,262.88 521.60,261.30 520.41,260.20 522.02,260.01" fill="#1a1a1a"/>
<path d="M534.00,262.80 V260.60 H545.00 V262.80" fill="none" stroke="#222" stroke-width="1.0"/>
<polygon points="533.65,252.34 534.33,253.81 535.94,254.00 534.75,255.10 535.07,256.68 533.65,255.89 532.24,256.68 532.56,255.10 531.37,254.00 532.98,253.81" fill="#1a1a1a"/>
<polygon points="538.99,252.34 539.66,253.81 541.27,254.00 540.08,255.10 540.40,256.68 538.99,255.89 537.57,256.68 537.89,255.10 536.70,254.00 538.31,253.81" fill="#1a1a1a"/>
<polygon points="544.31,252.34 544.99,253.81 546.60,254.00 545.41,255.10 545.73,256.68 544.31,255.89 542.90,256.68 543.22,255.10 542.03,254.00 543.64,253.81" fill="#1a1a1a"/>
<polygon points="549.64,252.34 550.32,253.81 551.93,254.00 550.74,255.10 551.06,256.68 549.64,255.89 548.23,256.68 548.55,255.10 547.36,254.00 548.97,253.81" fill="#1a1a1a"/>
<path d="M560.50,264.30 V262.10 H571.40 V264.30" fill="none" stroke="#222" stroke-width="1.0"/>
<polygon points="561.47,253.14 562.15,254.61 563.75,254.80 562.57,255.90 562.88,257.48 561.47,256.69 560.06,257.48 560.37,255.90 559.19,254.80 560.79,254.61" fill="#1a1a1a"/>
<polygon points="566.80,253.14 567.48,254.61 569.08,254.80 567.90,255.90 568.21,257.48 566.80,256.69 565.39,257.48 565.70,255.90 564.52,254.80 566.12,254.61" fill="#1a1a1a"/>
<polygon points="572.13,253.14 572.81,254.61 574.41,254.80 573.23,255.90 573.54,257.48 572.13,256.69 570.72,257.48 571.03,255.90 569.85,254.80 571.45,254.61" fill="#1a1a1a"/>
<text x="304.10" y="392.00" font-size="11.8" text-anchor="end" font-weight="bold" fill="#111111" transform="rotate(-90 304.10 392.00)">3&#8722;Hydroxybutyric acid</text>
<text x="329.80" y="392.00" font-size="11.8" text-anchor="end" font-weight="bold" fill="#111111" transform="rotate(-90 329.80 392.00)">Creatine</text>
<text x="352.00" y="392.00" font-size="11.8" text-anchor="end" font-weight="bold" fill="#111111" transform="rotate(-90 352.00 392.00)">3&#8722;Hydroxymethylglutaric</text>
<text x="363.10" y="392.00" font-size="12.0" text-anchor="end" font-weight="bold" fill="#111111" transform="rotate(-90 363.10 392.00)">acid</text>
<text x="383.80" y="392.00" font-size="11.8" text-anchor="end" font-weight="bold" fill="#111111" transform="rotate(-90 383.80 392.00)">Myristic acid</text>
<text x="411.40" y="392.00" font-size="12.0" text-anchor="end" fill="#111111" transform="rotate(-90 411.40 392.00)">Palmitoleic acid</text>
<text x="440.60" y="392.00" font-size="12.0" text-anchor="end" fill="#111111" transform="rotate(-90 440.60 392.00)">Linoleic acid</text>
<text x="465.90" y="392.00" font-size="12.0" text-anchor="end" fill="#111111" transform="rotate(-90 465.90 392.00)">Oleic acid</text>
<text x="491.70" y="392.00" font-size="12.0" text-anchor="end" fill="#111111" transform="rotate(-90 491.70 392.00)">Eicosenoic acid</text>
<text x="518.80" y="392.00" font-size="12.0" text-anchor="end" fill="#111111" transform="rotate(-90 518.80 392.00)">MG(0:0/16:0/0:0)</text>
<text x="544.80" y="392.00" font-size="12.0" text-anchor="end" fill="#111111" transform="rotate(-90 544.80 392.00)">Androsterone</text>
<text x="570.50" y="392.00" font-size="12.0" text-anchor="end" fill="#111111" transform="rotate(-90 570.50 392.00)">MG(16:0/0:0/0:0)</text>
<text x="579.50" y="250.50" font-size="21" text-anchor="start" fill="#111111" stroke="#1a1a1a" stroke-width="0.2">e.</text>
<line x1="620.60" y1="256.80" x2="620.60" y2="387.30" stroke="#5e5e5e" stroke-width="1.1"/>
<line x1="620.00" y1="387.30" x2="685.00" y2="387.30" stroke="#5e5e5e" stroke-width="1.1"/>
<line x1="618.40" y1="282.00" x2="620.60" y2="282.00" stroke="#5e5e5e" stroke-width="0.9"/>
<text x="617.60" y="286.10" font-size="11.8" text-anchor="end" fill="#111111">0</text>
<line x1="618.40" y1="320.40" x2="620.60" y2="320.40" stroke="#5e5e5e" stroke-width="0.9"/>
<text x="617.60" y="324.50" font-size="11.8" text-anchor="end" fill="#111111">&#8722;1</text>
<line x1="618.40" y1="358.80" x2="620.60" y2="358.80" stroke="#5e5e5e" stroke-width="0.9"/>
<text x="617.60" y="362.90" font-size="11.8" text-anchor="end" fill="#111111">&#8722;2</text>
<text x="602.60" y="319.30" font-size="13.45" text-anchor="middle" fill="#111111" transform="rotate(-90 602.60 319.30)">Log10(Metabolite Activity)</text>
<line x1="632.40" y1="348.80" x2="632.40" y2="354.30" stroke="#333" stroke-width="1.1"/>
<rect x="627.80" y="352.10" width="9.20" height="2.20" fill="#8a2a2a" stroke="#2a2a2a" stroke-width="0.9"/>
<line x1="627.80" y1="353.20" x2="637.00" y2="353.20" stroke="#222" stroke-width="1.2"/>
<circle cx="632.40" cy="359.20" r="1.70" fill="none" stroke="#333" stroke-width="0.85"/>
<line x1="642.80" y1="326.90" x2="642.80" y2="341.60" stroke="#333" stroke-width="1.1"/>
<rect x="638.10" y="334.20" width="9.40" height="5.40" fill="#3c82f0" stroke="#2a2a2a" stroke-width="0.9"/>
<line x1="638.10" y1="336.80" x2="647.50" y2="336.80" stroke="#222" stroke-width="1.2"/>
<line x1="660.55" y1="293.40" x2="660.55" y2="317.50" stroke="#333" stroke-width="1.1"/>
<rect x="655.60" y="300.60" width="9.90" height="9.90" fill="#d42d2d" stroke="#2a2a2a" stroke-width="0.9"/>
<line x1="655.60" y1="307.20" x2="665.50" y2="307.20" stroke="#222" stroke-width="1.2"/>
<line x1="670.85" y1="286.40" x2="670.85" y2="294.50" stroke="#333" stroke-width="1.1"/>
<rect x="665.90" y="289.20" width="9.90" height="4.40" fill="#3c82f0" stroke="#2a2a2a" stroke-width="0.9"/>
<line x1="665.90" y1="291.90" x2="675.80" y2="291.90" stroke="#222" stroke-width="1.2"/>
<line x1="637.50" y1="387.30" x2="637.50" y2="389.50" stroke="#5e5e5e" stroke-width="0.9"/>
<line x1="665.50" y1="387.30" x2="665.50" y2="389.50" stroke="#5e5e5e" stroke-width="0.9"/>
<path d="M632.00,289.20 V286.80 H643.60 V289.20" fill="none" stroke="#222" stroke-width="1.0"/>
<polygon points="632.47,279.44 633.15,280.91 634.75,281.10 633.57,282.20 633.88,283.78 632.47,282.99 631.06,283.78 631.37,282.20 630.19,281.10 631.79,280.91" fill="#1a1a1a"/>
<polygon points="637.80,279.44 638.48,280.91 640.08,281.10 638.90,282.20 639.21,283.78 637.80,282.99 636.39,283.78 636.70,282.20 635.52,281.10 637.12,280.91" fill="#1a1a1a"/>
<polygon points="643.13,279.44 643.81,280.91 645.41,281.10 644.23,282.20 644.54,283.78 643.13,282.99 641.72,283.78 642.03,282.20 640.85,281.10 642.45,280.91" fill="#1a1a1a"/>
<path d="M660.00,284.80 V282.40 H670.50 V284.80" fill="none" stroke="#222" stroke-width="1.0"/>
<polygon points="659.87,275.04 660.55,276.51 662.15,276.70 660.97,277.80 661.28,279.38 659.87,278.59 658.46,279.38 658.77,277.80 657.59,276.70 659.19,276.51" fill="#1a1a1a"/>
<polygon points="665.20,275.04 665.88,276.51 667.48,276.70 666.30,277.80 666.61,279.38 665.20,278.59 663.79,279.38 664.10,277.80 662.92,276.70 664.52,276.51" fill="#1a1a1a"/>
<polygon points="670.53,275.04 671.21,276.51 672.81,276.70 671.63,277.80 671.94,279.38 670.53,278.59 669.12,279.38 669.43,277.80 668.25,276.70 669.85,276.51" fill="#1a1a1a"/>
<text x="642.00" y="391.20" font-size="10.9" text-anchor="end" fill="#111111" transform="rotate(-90 642.00 391.20)">Galacturonic acid</text>
<text x="668.20" y="389.20" font-size="12.3" text-anchor="end" font-weight="bold" fill="#111111" transform="rotate(-90 668.20 389.20)">Inosine</text>
<text x="1.50" y="533.70" font-size="21" text-anchor="start" fill="#111111" stroke="#1a1a1a" stroke-width="0.2">f.</text>
<path d="M99.10,532.40 L101.20,532.40 L103.31,532.40 L105.41,532.40 L107.52,532.40 L109.62,532.40 L111.73,532.39 L113.83,532.39 L115.94,532.38 L118.05,532.36 L120.15,532.33 L122.25,532.27 L124.36,532.18 L126.47,532.03 L128.57,531.76 L130.68,531.32 L132.78,530.61 L134.88,529.52 L136.99,527.93 L139.09,525.85 L141.20,523.45 L143.31,521.05 L145.41,518.97 L147.51,517.38 L149.62,516.29 L151.73,515.58 L153.83,515.14 L155.94,514.87 L158.04,514.72 L160.15,514.63 L162.25,514.57 L164.36,514.54 L166.46,514.52 L168.56,514.51 L170.67,514.51 L172.78,514.50 L174.88,514.50 L176.99,514.50 L179.09,514.50 L181.19,514.50 L183.30,514.50 L183.30,530.30 L181.19,530.30 L179.09,530.30 L176.99,530.30 L174.88,530.30 L172.78,530.30 L170.67,530.31 L168.56,530.31 L166.46,530.32 L164.36,530.34 L162.25,530.37 L160.15,530.42 L158.04,530.51 L155.94,530.67 L153.83,530.93 L151.73,531.36 L149.62,532.07 L147.51,533.15 L145.41,534.72 L143.31,536.78 L141.20,539.15 L139.09,541.52 L136.99,543.58 L134.88,545.15 L132.78,546.23 L130.68,546.94 L128.57,547.37 L126.47,547.63 L124.36,547.79 L122.25,547.88 L120.15,547.93 L118.05,547.96 L115.94,547.98 L113.83,547.99 L111.73,547.99 L109.62,548.00 L107.52,548.00 L105.41,548.00 L103.31,548.00 L101.20,548.00 L99.10,548.00 Z" fill="#e6a13c" fill-opacity="0.5"/>
<path d="M99.10,557.40 L101.20,557.40 L103.31,557.40 L105.41,557.40 L107.52,557.40 L109.62,557.39 L111.73,557.39 L113.83,557.38 L115.94,557.36 L118.05,557.34 L120.15,557.29 L122.25,557.21 L124.36,557.07 L126.47,556.84 L128.57,556.44 L130.68,555.77 L132.78,554.70 L134.88,553.03 L136.99,550.63 L139.09,547.49 L141.20,543.85 L143.31,540.21 L145.41,537.07 L147.51,534.67 L149.62,533.00 L151.73,531.93 L153.83,531.26 L155.94,530.86 L158.04,530.63 L160.15,530.49 L162.25,530.41 L164.36,530.36 L166.46,530.34 L168.56,530.32 L170.67,530.31 L172.78,530.31 L174.88,530.30 L176.99,530.30 L179.09,530.30 L181.19,530.30 L183.30,530.30 L183.30,546.10 L181.19,546.10 L179.09,546.10 L176.99,546.10 L174.88,546.10 L172.78,546.11 L170.67,546.11 L168.56,546.12 L166.46,546.14 L164.36,546.16 L162.25,546.21 L160.15,546.29 L158.04,546.43 L155.94,546.66 L153.83,547.06 L151.73,547.72 L149.62,548.79 L147.51,550.45 L145.41,552.84 L143.31,555.98 L141.20,559.60 L139.09,563.22 L136.99,566.36 L134.88,568.75 L132.78,570.41 L130.68,571.48 L128.57,572.14 L126.47,572.54 L124.36,572.77 L122.25,572.91 L120.15,572.99 L118.05,573.04 L115.94,573.06 L113.83,573.08 L111.73,573.09 L109.62,573.09 L107.52,573.10 L105.41,573.10 L103.31,573.10 L101.20,573.10 L99.10,573.10 Z" fill="#e4e6f7" fill-opacity="0.6"/>
<path d="M99.10,573.10 L101.20,573.10 L103.31,573.10 L105.41,573.10 L107.52,573.10 L109.62,573.10 L111.73,573.09 L113.83,573.09 L115.94,573.08 L118.05,573.06 L120.15,573.03 L122.25,572.97 L124.36,572.88 L126.47,572.73 L128.57,572.46 L130.68,572.02 L132.78,571.30 L134.88,570.20 L136.99,568.60 L139.09,566.51 L141.20,564.10 L143.31,561.69 L145.41,559.60 L147.51,558.00 L149.62,556.90 L151.73,556.18 L153.83,555.74 L155.94,555.47 L158.04,555.32 L160.15,555.23 L162.25,555.17 L164.36,555.14 L166.46,555.12 L168.56,555.11 L170.67,555.11 L172.78,555.10 L174.88,555.10 L176.99,555.10 L179.09,555.10 L181.19,555.10 L183.30,555.10 L183.30,571.20 L181.19,571.20 L179.09,571.20 L176.99,571.20 L174.88,571.20 L172.78,571.20 L170.67,571.21 L168.56,571.21 L166.46,571.22 L164.36,571.24 L162.25,571.27 L160.15,571.32 L158.04,571.41 L155.94,571.57 L153.83,571.83 L151.73,572.26 L149.62,572.96 L147.51,574.04 L145.41,575.60 L143.31,577.64 L141.20,580.00 L139.09,582.36 L136.99,584.40 L134.88,585.96 L132.78,587.04 L130.68,587.74 L128.57,588.17 L126.47,588.43 L124.36,588.59 L122.25,588.68 L120.15,588.73 L118.05,588.76 L115.94,588.78 L113.83,588.79 L111.73,588.79 L109.62,588.80 L107.52,588.80 L105.41,588.80 L103.31,588.80 L101.20,588.80 L99.10,588.80 Z" fill="#e4e6f7" fill-opacity="0.6"/>
<path d="M99.10,598.20 L101.20,598.20 L103.31,598.20 L105.41,598.20 L107.52,598.19 L109.62,598.19 L111.73,598.18 L113.83,598.17 L115.94,598.16 L118.05,598.13 L120.15,598.08 L122.25,598.00 L124.36,597.87 L126.47,597.67 L128.57,597.34 L130.68,596.82 L132.78,596.03 L134.88,594.88 L136.99,593.31 L139.09,591.33 L141.20,589.10 L143.31,586.87 L145.41,584.89 L147.51,583.32 L149.62,582.17 L151.73,581.38 L153.83,580.86 L155.94,580.53 L158.04,580.33 L160.15,580.20 L162.25,580.12 L164.36,580.07 L166.46,580.04 L168.56,580.03 L170.67,580.02 L172.78,580.01 L174.88,580.01 L176.99,580.00 L179.09,580.00 L181.19,580.00 L183.30,580.00 L183.30,596.00 L181.19,596.00 L179.09,596.00 L176.99,596.00 L174.88,596.01 L172.78,596.01 L170.67,596.02 L168.56,596.03 L166.46,596.04 L164.36,596.07 L162.25,596.12 L160.15,596.20 L158.04,596.32 L155.94,596.53 L153.83,596.86 L151.73,597.37 L149.62,598.16 L147.51,599.30 L145.41,600.87 L143.31,602.83 L141.20,605.05 L139.09,607.27 L136.99,609.23 L134.88,610.80 L132.78,611.94 L130.68,612.73 L128.57,613.24 L126.47,613.57 L124.36,613.78 L122.25,613.90 L120.15,613.98 L118.05,614.03 L115.94,614.06 L113.83,614.07 L111.73,614.08 L109.62,614.09 L107.52,614.09 L105.41,614.10 L103.31,614.10 L101.20,614.10 L99.10,614.10 Z" fill="#4a6cc6" fill-opacity="0.5"/>
<path d="M99.10,623.20 L101.20,623.20 L103.31,623.20 L105.41,623.21 L107.52,623.22 L109.62,623.23 L111.73,623.25 L113.83,623.29 L115.94,623.35 L118.05,623.45 L120.15,623.63 L122.25,623.92 L124.36,624.41 L126.47,625.23 L128.57,626.57 L130.68,628.74 L132.78,632.14 L134.88,637.26 L136.99,644.46 L139.09,653.68 L141.20,664.20 L143.31,674.72 L145.41,683.94 L147.51,691.14 L149.62,696.26 L151.73,699.66 L153.83,701.83 L155.94,703.17 L158.04,703.99 L160.15,704.48 L162.25,704.77 L164.36,704.95 L166.46,705.05 L168.56,705.11 L170.67,705.15 L172.78,705.17 L174.88,705.18 L176.99,705.19 L179.09,705.20 L181.19,705.20 L183.30,705.20 L183.30,720.90 L181.19,720.90 L179.09,720.90 L176.99,720.89 L174.88,720.88 L172.78,720.87 L170.67,720.85 L168.56,720.81 L166.46,720.75 L164.36,720.65 L162.25,720.48 L160.15,720.18 L158.04,719.69 L155.94,718.88 L153.83,717.54 L151.73,715.38 L149.62,711.98 L147.51,706.87 L145.41,699.69 L143.31,690.49 L141.20,679.99 L139.09,669.49 L136.99,660.29 L134.88,653.11 L132.78,648.00 L130.68,644.60 L128.57,642.44 L126.47,641.10 L124.36,640.29 L122.25,639.80 L120.15,639.50 L118.05,639.33 L115.94,639.23 L113.83,639.17 L111.73,639.13 L109.62,639.11 L107.52,639.10 L105.41,639.09 L103.31,639.08 L101.20,639.08 L99.10,639.08 Z" fill="#c5acd8" fill-opacity="0.45"/>
<path d="M99.10,639.08 L101.20,639.08 L103.31,639.08 L105.41,639.08 L107.52,639.09 L109.62,639.09 L111.73,639.11 L113.83,639.12 L115.94,639.15 L118.05,639.21 L120.15,639.29 L122.25,639.44 L124.36,639.68 L126.47,640.09 L128.57,640.76 L130.68,641.84 L132.78,643.54 L134.88,646.10 L136.99,649.69 L139.09,654.29 L141.20,659.54 L143.31,664.79 L145.41,669.39 L147.51,672.98 L149.62,675.54 L151.73,677.24 L153.83,678.32 L155.94,678.99 L158.04,679.40 L160.15,679.64 L162.25,679.79 L164.36,679.87 L166.46,679.93 L168.56,679.96 L170.67,679.97 L172.78,679.99 L174.88,679.99 L176.99,680.00 L179.09,680.00 L181.19,680.00 L183.30,680.00 L183.30,695.70 L181.19,695.70 L179.09,695.70 L176.99,695.70 L174.88,695.69 L172.78,695.69 L170.67,695.67 L168.56,695.66 L166.46,695.63 L164.36,695.58 L162.25,695.49 L160.15,695.34 L158.04,695.10 L155.94,694.69 L153.83,694.03 L151.73,692.95 L149.62,691.26 L147.51,688.71 L145.41,685.14 L143.31,680.56 L141.20,675.33 L139.09,670.10 L136.99,665.52 L134.88,661.95 L132.78,659.40 L130.68,657.71 L128.57,656.63 L126.47,655.97 L124.36,655.56 L122.25,655.32 L120.15,655.17 L118.05,655.08 L115.94,655.03 L113.83,655.00 L111.73,654.99 L109.62,654.97 L107.52,654.97 L105.41,654.96 L103.31,654.96 L101.20,654.96 L99.10,654.96 Z" fill="#c5acd8" fill-opacity="0.45"/>
<path d="M99.10,654.96 L101.20,654.96 L103.31,654.96 L105.41,654.96 L107.52,654.96 L109.62,654.96 L111.73,654.96 L113.83,654.96 L115.94,654.96 L118.05,654.96 L120.15,654.96 L122.25,654.96 L124.36,654.96 L126.47,654.96 L128.57,654.97 L130.68,654.97 L132.78,654.98 L134.88,654.98 L136.99,655.00 L139.09,655.01 L141.20,655.03 L143.31,655.05 L145.41,655.06 L147.51,655.08 L149.62,655.08 L151.73,655.09 L153.83,655.09 L155.94,655.10 L158.04,655.10 L160.15,655.10 L162.25,655.10 L164.36,655.10 L166.46,655.10 L168.56,655.10 L170.67,655.10 L172.78,655.10 L174.88,655.10 L176.99,655.10 L179.09,655.10 L181.19,655.10 L183.30,655.10 L183.30,670.90 L181.19,670.90 L179.09,670.90 L176.99,670.90 L174.88,670.90 L172.78,670.90 L170.67,670.90 L168.56,670.90 L166.46,670.90 L164.36,670.90 L162.25,670.90 L160.15,670.90 L158.04,670.90 L155.94,670.90 L153.83,670.90 L151.73,670.90 L149.62,670.89 L147.51,670.89 L145.41,670.88 L143.31,670.88 L141.20,670.87 L139.09,670.86 L136.99,670.86 L134.88,670.85 L132.78,670.85 L130.68,670.84 L128.57,670.84 L126.47,670.84 L124.36,670.84 L122.25,670.84 L120.15,670.84 L118.05,670.84 L115.94,670.84 L113.83,670.84 L111.73,670.84 L109.62,670.84 L107.52,670.84 L105.41,670.84 L103.31,670.84 L101.20,670.84 L99.10,670.84 Z" fill="#c5acd8" fill-opacity="0.45"/>
<path d="M99.10,670.84 L101.20,670.84 L103.31,670.84 L105.41,670.84 L107.52,670.83 L109.62,670.83 L111.73,670.82 L113.83,670.80 L115.94,670.77 L118.05,670.72 L120.15,670.63 L122.25,670.48 L124.36,670.24 L126.47,669.84 L128.57,669.17 L130.68,668.10 L132.78,666.41 L134.88,663.87 L136.99,660.31 L139.09,655.74 L141.20,650.52 L143.31,645.30 L145.41,640.73 L147.51,637.17 L149.62,634.63 L151.73,632.94 L153.83,631.87 L155.94,631.20 L158.04,630.80 L160.15,630.56 L162.25,630.41 L164.36,630.32 L166.46,630.27 L168.56,630.24 L170.67,630.22 L172.78,630.21 L174.88,630.21 L176.99,630.20 L179.09,630.20 L181.19,630.20 L183.30,630.20 L183.30,646.40 L181.19,646.40 L179.09,646.40 L176.99,646.40 L174.88,646.41 L172.78,646.41 L170.67,646.42 L168.56,646.44 L166.46,646.47 L164.36,646.52 L162.25,646.61 L160.15,646.75 L158.04,646.99 L155.94,647.40 L153.83,648.06 L151.73,649.12 L149.62,650.80 L147.51,653.31 L145.41,656.85 L143.31,661.39 L141.20,666.56 L139.09,671.73 L136.99,676.27 L134.88,679.81 L132.78,682.32 L130.68,684.00 L128.57,685.06 L126.47,685.72 L124.36,686.13 L122.25,686.37 L120.15,686.51 L118.05,686.60 L115.94,686.65 L113.83,686.68 L111.73,686.70 L109.62,686.71 L107.52,686.71 L105.41,686.72 L103.31,686.72 L101.20,686.72 L99.10,686.72 Z" fill="#c5acd8" fill-opacity="0.45"/>
<path d="M99.10,686.72 L101.20,686.72 L103.31,686.72 L105.41,686.71 L107.52,686.70 L109.62,686.69 L111.73,686.67 L113.83,686.63 L115.94,686.57 L118.05,686.47 L120.15,686.30 L122.25,686.01 L124.36,685.52 L126.47,684.71 L128.57,683.38 L130.68,681.22 L132.78,677.84 L134.88,672.76 L136.99,665.61 L139.09,656.46 L141.20,646.01 L143.31,635.56 L145.41,626.41 L147.51,619.26 L149.62,614.18 L151.73,610.80 L153.83,608.64 L155.94,607.31 L158.04,606.50 L160.15,606.01 L162.25,605.72 L164.36,605.55 L166.46,605.45 L168.56,605.39 L170.67,605.35 L172.78,605.33 L174.88,605.32 L176.99,605.31 L179.09,605.30 L181.19,605.30 L183.30,605.30 L183.30,621.30 L181.19,621.30 L179.09,621.30 L176.99,621.31 L174.88,621.32 L172.78,621.33 L170.67,621.35 L168.56,621.39 L166.46,621.45 L164.36,621.55 L162.25,621.72 L160.15,622.01 L158.04,622.50 L155.94,623.31 L153.83,624.64 L151.73,626.79 L149.62,630.17 L147.51,635.24 L145.41,642.37 L143.31,651.52 L141.20,661.95 L139.09,672.38 L136.99,681.53 L134.88,688.66 L132.78,693.73 L130.68,697.11 L128.57,699.26 L126.47,700.59 L124.36,701.40 L122.25,701.89 L120.15,702.18 L118.05,702.35 L115.94,702.45 L113.83,702.51 L111.73,702.55 L109.62,702.57 L107.52,702.58 L105.41,702.59 L103.31,702.60 L101.20,702.60 L99.10,702.60 Z" fill="#c5acd8" fill-opacity="0.45"/>
<rect x="89.20" y="532.40" width="9.90" height="15.60" fill="#e6a13c" stroke="none" stroke-width="1"/>
<rect x="89.20" y="557.40" width="9.90" height="31.40" fill="#e4e6f7" stroke="none" stroke-width="1"/>
<rect x="89.20" y="598.20" width="9.90" height="15.90" fill="#4a6cc6" stroke="none" stroke-width="1"/>
<rect x="89.20" y="623.20" width="9.90" height="79.40" fill="#c5acd8" stroke="none" stroke-width="1"/>
<text x="89.60" y="541.90" font-size="12.2" text-anchor="end" fill="#111111">Oleic acid</text>
<text x="89.60" y="576.40" font-size="12.2" text-anchor="end" fill="#111111">Linoleic acid</text>
<text x="89.60" y="604.80" font-size="11.9" text-anchor="end" fill="#111111">3&#8722;Hydroxybutyric</text>
<text x="89.60" y="613.20" font-size="11.9" text-anchor="end" fill="#111111">acid</text>
<text x="89.60" y="665.00" font-size="12.2" text-anchor="end" fill="#111111">Creatine</text>
<rect x="183.30" y="514.50" width="9.50" height="31.60" fill="#72b872" stroke="none" stroke-width="1"/>
<rect x="183.30" y="555.10" width="9.50" height="16.10" fill="#6a3d9a" stroke="none" stroke-width="1"/>
<rect x="183.30" y="580.00" width="9.50" height="16.00" fill="#a876c4" stroke="none" stroke-width="1"/>
<rect x="183.30" y="605.30" width="9.50" height="16.00" fill="#4aa898" stroke="none" stroke-width="1"/>
<rect x="183.30" y="630.20" width="9.50" height="16.20" fill="#c8c64c" stroke="none" stroke-width="1"/>
<rect x="183.30" y="655.10" width="9.50" height="15.80" fill="#3a9ac6" stroke="none" stroke-width="1"/>
<rect x="183.30" y="680.00" width="9.50" height="15.70" fill="#e01f1f" stroke="none" stroke-width="1"/>
<rect x="183.30" y="705.20" width="9.50" height="15.70" fill="#e8782a" stroke="none" stroke-width="1"/>
<text x="192.20" y="520.50" font-size="10.4" text-anchor="end" fill="#111111">Biosynthesis</text>
<text x="192.20" y="528.70" font-size="10.4" text-anchor="end" fill="#111111">of unsaturated</text>
<text x="192.20" y="540.20" font-size="10.4" text-anchor="end" fill="#111111">fatty acids</text>
<text x="192.20" y="562.20" font-size="10.4" text-anchor="end" fill="#111111">Linoleic acid</text>
<text x="192.20" y="570.70" font-size="10.4" text-anchor="end" fill="#111111">metabolism</text>
<text x="192.20" y="586.50" font-size="10.4" text-anchor="end" fill="#111111">Butanoate</text>
<text x="192.20" y="594.80" font-size="10.4" text-anchor="end" fill="#111111">metabolism</text>
<text x="188.50" y="611.60" font-size="10.15" text-anchor="end" fill="#111111">Glycine,serine and</text>
<text x="188.50" y="620.30" font-size="10.15" text-anchor="end" fill="#111111">threonine metabolism</text>
<text x="192.20" y="636.70" font-size="10.4" text-anchor="end" fill="#111111">Arginine and</text>
<text x="192.20" y="645.60" font-size="10.4" text-anchor="end" fill="#111111">proline metabolism</text>
<text x="192.20" y="662.60" font-size="10.4" text-anchor="end" fill="#111111">Fatty acid</text>
<text x="192.20" y="671.10" font-size="10.4" text-anchor="end" fill="#111111">biosynthesis</text>
<text x="192.20" y="689.80" font-size="10.4" text-anchor="end" fill="#111111">Purine metabolism</text>
<text x="192.20" y="710.90" font-size="10.4" text-anchor="end" fill="#111111">Steroid hormone</text>
<text x="192.20" y="719.60" font-size="10.4" text-anchor="end" fill="#111111">biosynthesis</text>
<rect x="198.30" y="514.30" width="53.60" height="209.30" fill="#ffffff" stroke="#444" stroke-width="0.9"/>
<circle cx="245.50" cy="529.20" r="5.80" fill="#e31b1e" stroke="none" stroke-width="1"/>
<circle cx="238.10" cy="566.40" r="3.70" fill="#dd4a50" stroke="none" stroke-width="1"/>
<circle cx="222.80" cy="590.40" r="3.70" fill="#b97a9c" stroke="none" stroke-width="1"/>
<circle cx="211.40" cy="614.10" r="3.70" fill="#8898d8" stroke="none" stroke-width="1"/>
<circle cx="210.40" cy="638.30" r="3.70" fill="#8a97d6" stroke="none" stroke-width="1"/>
<circle cx="207.00" cy="662.40" r="3.70" fill="#6e9fe6" stroke="none" stroke-width="1"/>
<circle cx="203.30" cy="686.40" r="3.70" fill="#3fa9f7" stroke="none" stroke-width="1"/>
<circle cx="203.30" cy="712.00" r="3.70" fill="#3fa9f7" stroke="none" stroke-width="1"/>
<line x1="198.40" y1="723.60" x2="198.40" y2="725.80" stroke="#5e5e5e" stroke-width="0.9"/>
<text x="198.40" y="737.00" font-size="11.6" text-anchor="middle" fill="#111111">1</text>
<line x1="212.75" y1="723.60" x2="212.75" y2="725.80" stroke="#5e5e5e" stroke-width="0.9"/>
<text x="212.75" y="737.00" font-size="11.6" text-anchor="middle" fill="#111111">2</text>
<line x1="227.10" y1="723.60" x2="227.10" y2="725.80" stroke="#5e5e5e" stroke-width="0.9"/>
<text x="227.10" y="737.00" font-size="11.6" text-anchor="middle" fill="#111111">3</text>
<line x1="241.45" y1="723.60" x2="241.45" y2="725.80" stroke="#5e5e5e" stroke-width="0.9"/>
<text x="241.45" y="737.00" font-size="11.6" text-anchor="middle" fill="#111111">4</text>
<text x="221.30" y="746.60" font-size="13" text-anchor="middle" fill="#111111">&#8722;Log<tspan font-size="8.6" dy="3">10</tspan><tspan dy="-3">(Pvalue)</tspan></text>
<text x="130.30" y="767.00" font-size="13" text-anchor="middle" fill="#111111">&#8722;Log<tspan font-size="8.6" dy="3">10</tspan><tspan dy="-3">(Pvalue)</tspan></text>
<linearGradient id="gp" x1="0" y1="0" x2="1" y2="0"><stop offset="0" stop-color="#e8363b"/><stop offset="0.33" stop-color="#d05a6a"/><stop offset="0.55" stop-color="#b07898"/><stop offset="0.78" stop-color="#8a8cc8"/><stop offset="1" stop-color="#3aaeff"/></linearGradient>
<rect x="98.30" y="784.10" width="77.30" height="12.20" fill="url(#gp)" stroke="none" stroke-width="1"/>
<line x1="107.00" y1="784.10" x2="107.00" y2="786.60" stroke="#ffffff" stroke-width="0.7"/>
<text x="107.00" y="781.90" font-size="11.6" text-anchor="middle" fill="#111111">4</text>
<line x1="134.00" y1="784.10" x2="134.00" y2="786.60" stroke="#ffffff" stroke-width="0.7"/>
<text x="134.00" y="781.90" font-size="11.6" text-anchor="middle" fill="#111111">3</text>
<line x1="162.40" y1="784.10" x2="162.40" y2="786.60" stroke="#ffffff" stroke-width="0.7"/>
<text x="162.40" y="781.90" font-size="11.6" text-anchor="middle" fill="#111111">2</text>
<text x="219.00" y="767.20" font-size="13.3" text-anchor="middle" fill="#111111">Count</text>
<text x="207.80" y="781.90" font-size="11.6" text-anchor="middle" fill="#111111">1</text>
<text x="225.90" y="781.90" font-size="11.6" text-anchor="middle" fill="#111111">2</text>
<circle cx="207.80" cy="790.70" r="5.50" fill="#000" stroke="none" stroke-width="1"/>
<circle cx="225.30" cy="790.70" r="7.90" fill="#000" stroke="none" stroke-width="1"/>
<text x="270.50" y="532.30" font-size="21" text-anchor="start" fill="#111111" stroke="#1a1a1a" stroke-width="0.2">g.</text>
<rect x="287.30" y="557.90" width="29.76" height="27.30" fill="#f29a80" stroke="#ffffff" stroke-width="0.8"/>
<polygon points="298.93,568.75 299.78,570.59 301.78,570.82 300.30,572.19 300.69,574.18 298.93,573.19 297.17,574.18 297.56,572.19 296.08,570.82 298.08,570.59" fill="#111"/>
<polygon points="305.43,568.75 306.28,570.59 308.28,570.82 306.80,572.19 307.19,574.18 305.43,573.19 303.67,574.18 304.06,572.19 302.58,570.82 304.58,570.59" fill="#111"/>
<rect x="317.06" y="557.90" width="29.76" height="27.30" fill="#f29a80" stroke="#ffffff" stroke-width="0.8"/>
<polygon points="328.69,568.75 329.54,570.59 331.54,570.82 330.06,572.19 330.45,574.18 328.69,573.19 326.93,574.18 327.32,572.19 325.84,570.82 327.84,570.59" fill="#111"/>
<polygon points="335.19,568.75 336.04,570.59 338.04,570.82 336.56,572.19 336.95,574.18 335.19,573.19 333.43,574.18 333.82,572.19 332.34,570.82 334.34,570.59" fill="#111"/>
<rect x="346.82" y="557.90" width="29.76" height="27.30" fill="#f4a086" stroke="#ffffff" stroke-width="0.8"/>
<polygon points="358.45,568.75 359.30,570.59 361.30,570.82 359.82,572.19 360.21,574.18 358.45,573.19 356.69,574.18 357.08,572.19 355.60,570.82 357.60,570.59" fill="#111"/>
<polygon points="364.95,568.75 365.80,570.59 367.80,570.82 366.32,572.19 366.71,574.18 364.95,573.19 363.19,574.18 363.58,572.19 362.10,570.82 364.10,570.59" fill="#111"/>
<rect x="376.58" y="557.90" width="29.76" height="27.30" fill="#f3a085" stroke="#ffffff" stroke-width="0.8"/>
<polygon points="388.21,568.75 389.06,570.59 391.06,570.82 389.58,572.19 389.97,574.18 388.21,573.19 386.45,574.18 386.84,572.19 385.36,570.82 387.36,570.59" fill="#111"/>
<polygon points="394.71,568.75 395.56,570.59 397.56,570.82 396.08,572.19 396.47,574.18 394.71,573.19 392.95,574.18 393.34,572.19 391.86,570.82 393.86,570.59" fill="#111"/>
<rect x="406.34" y="557.90" width="29.76" height="27.30" fill="#f4a087" stroke="#ffffff" stroke-width="0.8"/>
<polygon points="417.97,568.75 418.82,570.59 420.82,570.82 419.34,572.19 419.73,574.18 417.97,573.19 416.21,574.18 416.60,572.19 415.12,570.82 417.12,570.59" fill="#111"/>
<polygon points="424.47,568.75 425.32,570.59 427.32,570.82 425.84,572.19 426.23,574.18 424.47,573.19 422.71,574.18 423.10,572.19 421.62,570.82 423.62,570.59" fill="#111"/>
<rect x="436.10" y="557.90" width="29.76" height="27.30" fill="#f4a188" stroke="#ffffff" stroke-width="0.8"/>
<polygon points="447.73,568.75 448.58,570.59 450.58,570.82 449.10,572.19 449.49,574.18 447.73,573.19 445.97,574.18 446.36,572.19 444.88,570.82 446.88,570.59" fill="#111"/>
<polygon points="454.23,568.75 455.08,570.59 457.08,570.82 455.60,572.19 455.99,574.18 454.23,573.19 452.47,574.18 452.86,572.19 451.38,570.82 453.38,570.59" fill="#111"/>
<rect x="465.86" y="557.90" width="29.76" height="27.30" fill="#ef8c70" stroke="#ffffff" stroke-width="0.8"/>
<polygon points="477.49,568.75 478.34,570.59 480.34,570.82 478.86,572.19 479.25,574.18 477.49,573.19 475.73,574.18 476.12,572.19 474.64,570.82 476.64,570.59" fill="#111"/>
<polygon points="483.99,568.75 484.84,570.59 486.84,570.82 485.36,572.19 485.75,574.18 483.99,573.19 482.23,574.18 482.62,572.19 481.14,570.82 483.14,570.59" fill="#111"/>
<rect x="495.62" y="557.90" width="29.76" height="27.30" fill="#f29680" stroke="#ffffff" stroke-width="0.8"/>
<polygon points="507.25,568.75 508.10,570.59 510.10,570.82 508.62,572.19 509.01,574.18 507.25,573.19 505.49,574.18 505.88,572.19 504.40,570.82 506.40,570.59" fill="#111"/>
<polygon points="513.75,568.75 514.60,570.59 516.60,570.82 515.12,572.19 515.51,574.18 513.75,573.19 511.99,574.18 512.38,572.19 510.90,570.82 512.90,570.59" fill="#111"/>
<rect x="525.38" y="557.90" width="29.76" height="27.30" fill="#f4a086" stroke="#ffffff" stroke-width="0.8"/>
<polygon points="537.01,568.75 537.86,570.59 539.86,570.82 538.38,572.19 538.77,574.18 537.01,573.19 535.25,574.18 535.64,572.19 534.16,570.82 536.16,570.59" fill="#111"/>
<polygon points="543.51,568.75 544.36,570.59 546.36,570.82 544.88,572.19 545.27,574.18 543.51,573.19 541.75,574.18 542.14,572.19 540.66,570.82 542.66,570.59" fill="#111"/>
<rect x="555.14" y="557.90" width="29.76" height="27.30" fill="#f29c82" stroke="#ffffff" stroke-width="0.8"/>
<polygon points="566.77,568.75 567.62,570.59 569.62,570.82 568.14,572.19 568.53,574.18 566.77,573.19 565.01,574.18 565.40,572.19 563.92,570.82 565.92,570.59" fill="#111"/>
<polygon points="573.27,568.75 574.12,570.59 576.12,570.82 574.64,572.19 575.03,574.18 573.27,573.19 571.51,574.18 571.90,572.19 570.42,570.82 572.42,570.59" fill="#111"/>
<rect x="584.90" y="557.90" width="29.76" height="27.30" fill="#f8b09a" stroke="#ffffff" stroke-width="0.8"/>
<polygon points="599.78,568.75 600.63,570.59 602.63,570.82 601.15,572.19 601.54,574.18 599.78,573.19 598.02,574.18 598.41,572.19 596.93,570.82 598.93,570.59" fill="#111"/>
<rect x="614.66" y="557.90" width="29.76" height="27.30" fill="#bdd6e2" stroke="#ffffff" stroke-width="0.8"/>
<polygon points="626.29,568.75 627.14,570.59 629.14,570.82 627.66,572.19 628.05,574.18 626.29,573.19 624.53,574.18 624.92,572.19 623.44,570.82 625.44,570.59" fill="#111"/>
<polygon points="632.79,568.75 633.64,570.59 635.64,570.82 634.16,572.19 634.55,574.18 632.79,573.19 631.03,574.18 631.42,572.19 629.94,570.82 631.94,570.59" fill="#111"/>
<rect x="644.42" y="557.90" width="29.76" height="27.30" fill="#bdd6e2" stroke="#ffffff" stroke-width="0.8"/>
<polygon points="656.05,568.75 656.90,570.59 658.90,570.82 657.42,572.19 657.81,574.18 656.05,573.19 654.29,574.18 654.68,572.19 653.20,570.82 655.20,570.59" fill="#111"/>
<polygon points="662.55,568.75 663.40,570.59 665.40,570.82 663.92,572.19 664.31,574.18 662.55,573.19 660.79,574.18 661.18,572.19 659.70,570.82 661.70,570.59" fill="#111"/>
<rect x="287.30" y="585.20" width="29.76" height="27.30" fill="#f4a086" stroke="#ffffff" stroke-width="0.8"/>
<polygon points="298.93,596.05 299.78,597.89 301.78,598.12 300.30,599.49 300.69,601.48 298.93,600.49 297.17,601.48 297.56,599.49 296.08,598.12 298.08,597.89" fill="#111"/>
<polygon points="305.43,596.05 306.28,597.89 308.28,598.12 306.80,599.49 307.19,601.48 305.43,600.49 303.67,601.48 304.06,599.49 302.58,598.12 304.58,597.89" fill="#111"/>
<rect x="317.06" y="585.20" width="29.76" height="27.30" fill="#f29a80" stroke="#ffffff" stroke-width="0.8"/>
<polygon points="328.69,596.05 329.54,597.89 331.54,598.12 330.06,599.49 330.45,601.48 328.69,600.49 326.93,601.48 327.32,599.49 325.84,598.12 327.84,597.89" fill="#111"/>
<polygon points="335.19,596.05 336.04,597.89 338.04,598.12 336.56,599.49 336.95,601.48 335.19,600.49 333.43,601.48 333.82,599.49 332.34,598.12 334.34,597.89" fill="#111"/>
<rect x="346.82" y="585.20" width="29.76" height="27.30" fill="#f5a88e" stroke="#ffffff" stroke-width="0.8"/>
<polygon points="358.45,596.05 359.30,597.89 361.30,598.12 359.82,599.49 360.21,601.48 358.45,600.49 356.69,601.48 357.08,599.49 355.60,598.12 357.60,597.89" fill="#111"/>
<polygon points="364.95,596.05 365.80,597.89 367.80,598.12 366.32,599.49 366.71,601.48 364.95,600.49 363.19,601.48 363.58,599.49 362.10,598.12 364.10,597.89" fill="#111"/>
<rect x="376.58" y="585.20" width="29.76" height="27.30" fill="#f7b09a" stroke="#ffffff" stroke-width="0.8"/>
<polygon points="391.46,596.05 392.31,597.89 394.31,598.12 392.83,599.49 393.22,601.48 391.46,600.49 389.70,601.48 390.09,599.49 388.61,598.12 390.61,597.89" fill="#111"/>
<rect x="406.34" y="585.20" width="29.76" height="27.30" fill="#f7ae96" stroke="#ffffff" stroke-width="0.8"/>
<polygon points="421.22,596.05 422.07,597.89 424.07,598.12 422.59,599.49 422.98,601.48 421.22,600.49 419.46,601.48 419.85,599.49 418.37,598.12 420.37,597.89" fill="#111"/>
<rect x="436.10" y="585.20" width="29.76" height="27.30" fill="#f8b3a0" stroke="#ffffff" stroke-width="0.8"/>
<polygon points="450.98,596.05 451.83,597.89 453.83,598.12 452.35,599.49 452.74,601.48 450.98,600.49 449.22,601.48 449.61,599.49 448.13,598.12 450.13,597.89" fill="#111"/>
<rect x="465.86" y="585.20" width="29.76" height="27.30" fill="#f4a488" stroke="#ffffff" stroke-width="0.8"/>
<polygon points="477.49,596.05 478.34,597.89 480.34,598.12 478.86,599.49 479.25,601.48 477.49,600.49 475.73,601.48 476.12,599.49 474.64,598.12 476.64,597.89" fill="#111"/>
<polygon points="483.99,596.05 484.84,597.89 486.84,598.12 485.36,599.49 485.75,601.48 483.99,600.49 482.23,601.48 482.62,599.49 481.14,598.12 483.14,597.89" fill="#111"/>
<rect x="495.62" y="585.20" width="29.76" height="27.30" fill="#f4a086" stroke="#ffffff" stroke-width="0.8"/>
<polygon points="507.25,596.05 508.10,597.89 510.10,598.12 508.62,599.49 509.01,601.48 507.25,600.49 505.49,601.48 505.88,599.49 504.40,598.12 506.40,597.89" fill="#111"/>
<polygon points="513.75,596.05 514.60,597.89 516.60,598.12 515.12,599.49 515.51,601.48 513.75,600.49 511.99,601.48 512.38,599.49 510.90,598.12 512.90,597.89" fill="#111"/>
<rect x="525.38" y="585.20" width="29.76" height="27.30" fill="#f5a68c" stroke="#ffffff" stroke-width="0.8"/>
<polygon points="537.01,596.05 537.86,597.89 539.86,598.12 538.38,599.49 538.77,601.48 537.01,600.49 535.25,601.48 535.64,599.49 534.16,598.12 536.16,597.89" fill="#111"/>
<polygon points="543.51,596.05 544.36,597.89 546.36,598.12 544.88,599.49 545.27,601.48 543.51,600.49 541.75,601.48 542.14,599.49 540.66,598.12 542.66,597.89" fill="#111"/>
<rect x="555.14" y="585.20" width="29.76" height="27.30" fill="#f49e84" stroke="#ffffff" stroke-width="0.8"/>
<polygon points="566.77,596.05 567.62,597.89 569.62,598.12 568.14,599.49 568.53,601.48 566.77,600.49 565.01,601.48 565.40,599.49 563.92,598.12 565.92,597.89" fill="#111"/>
<polygon points="573.27,596.05 574.12,597.89 576.12,598.12 574.64,599.49 575.03,601.48 573.27,600.49 571.51,601.48 571.90,599.49 570.42,598.12 572.42,597.89" fill="#111"/>
<rect x="584.90" y="585.20" width="29.76" height="27.30" fill="#f7ad96" stroke="#ffffff" stroke-width="0.8"/>
<polygon points="599.78,596.05 600.63,597.89 602.63,598.12 601.15,599.49 601.54,601.48 599.78,600.49 598.02,601.48 598.41,599.49 596.93,598.12 598.93,597.89" fill="#111"/>
<rect x="614.66" y="585.20" width="29.76" height="27.30" fill="#c0d8e4" stroke="#ffffff" stroke-width="0.8"/>
<polygon points="629.54,596.05 630.39,597.89 632.39,598.12 630.91,599.49 631.30,601.48 629.54,600.49 627.78,601.48 628.17,599.49 626.69,598.12 628.69,597.89" fill="#111"/>
<rect x="644.42" y="585.20" width="29.76" height="27.30" fill="#bcd5e2" stroke="#ffffff" stroke-width="0.8"/>
<polygon points="656.05,596.05 656.90,597.89 658.90,598.12 657.42,599.49 657.81,601.48 656.05,600.49 654.29,601.48 654.68,599.49 653.20,598.12 655.20,597.89" fill="#111"/>
<polygon points="662.55,596.05 663.40,597.89 665.40,598.12 663.92,599.49 664.31,601.48 662.55,600.49 660.79,601.48 661.18,599.49 659.70,598.12 661.70,597.89" fill="#111"/>
<rect x="287.30" y="612.50" width="29.76" height="27.30" fill="#bcd5e2" stroke="#ffffff" stroke-width="0.8"/>
<polygon points="298.93,623.35 299.78,625.19 301.78,625.42 300.30,626.79 300.69,628.78 298.93,627.79 297.17,628.78 297.56,626.79 296.08,625.42 298.08,625.19" fill="#111"/>
<polygon points="305.43,623.35 306.28,625.19 308.28,625.42 306.80,626.79 307.19,628.78 305.43,627.79 303.67,628.78 304.06,626.79 302.58,625.42 304.58,625.19" fill="#111"/>
<rect x="317.06" y="612.50" width="29.76" height="27.30" fill="#bad4e2" stroke="#ffffff" stroke-width="0.8"/>
<polygon points="328.69,623.35 329.54,625.19 331.54,625.42 330.06,626.79 330.45,628.78 328.69,627.79 326.93,628.78 327.32,626.79 325.84,625.42 327.84,625.19" fill="#111"/>
<polygon points="335.19,623.35 336.04,625.19 338.04,625.42 336.56,626.79 336.95,628.78 335.19,627.79 333.43,628.78 333.82,626.79 332.34,625.42 334.34,625.19" fill="#111"/>
<rect x="346.82" y="612.50" width="29.76" height="27.30" fill="#b6d0de" stroke="#ffffff" stroke-width="0.8"/>
<polygon points="358.45,623.35 359.30,625.19 361.30,625.42 359.82,626.79 360.21,628.78 358.45,627.79 356.69,628.78 357.08,626.79 355.60,625.42 357.60,625.19" fill="#111"/>
<polygon points="364.95,623.35 365.80,625.19 367.80,625.42 366.32,626.79 366.71,628.78 364.95,627.79 363.19,628.78 363.58,626.79 362.10,625.42 364.10,625.19" fill="#111"/>
<rect x="376.58" y="612.50" width="29.76" height="27.30" fill="#bcd5e2" stroke="#ffffff" stroke-width="0.8"/>
<polygon points="388.21,623.35 389.06,625.19 391.06,625.42 389.58,626.79 389.97,628.78 388.21,627.79 386.45,628.78 386.84,626.79 385.36,625.42 387.36,625.19" fill="#111"/>
<polygon points="394.71,623.35 395.56,625.19 397.56,625.42 396.08,626.79 396.47,628.78 394.71,627.79 392.95,628.78 393.34,626.79 391.86,625.42 393.86,625.19" fill="#111"/>
<rect x="406.34" y="612.50" width="29.76" height="27.30" fill="#bdd6e2" stroke="#ffffff" stroke-width="0.8"/>
<polygon points="417.97,623.35 418.82,625.19 420.82,625.42 419.34,626.79 419.73,628.78 417.97,627.79 416.21,628.78 416.60,626.79 415.12,625.42 417.12,625.19" fill="#111"/>
<polygon points="424.47,623.35 425.32,625.19 427.32,625.42 425.84,626.79 426.23,628.78 424.47,627.79 422.71,628.78 423.10,626.79 421.62,625.42 423.62,625.19" fill="#111"/>
<rect x="436.10" y="612.50" width="29.76" height="27.30" fill="#bcd5e2" stroke="#ffffff" stroke-width="0.8"/>
<polygon points="447.73,623.35 448.58,625.19 450.58,625.42 449.10,626.79 449.49,628.78 447.73,627.79 445.97,628.78 446.36,626.79 444.88,625.42 446.88,625.19" fill="#111"/>
<polygon points="454.23,623.35 455.08,625.19 457.08,625.42 455.60,626.79 455.99,628.78 454.23,627.79 452.47,628.78 452.86,626.79 451.38,625.42 453.38,625.19" fill="#111"/>
<rect x="465.86" y="612.50" width="29.76" height="27.30" fill="#b0cddc" stroke="#ffffff" stroke-width="0.8"/>
<polygon points="477.49,623.35 478.34,625.19 480.34,625.42 478.86,626.79 479.25,628.78 477.49,627.79 475.73,628.78 476.12,626.79 474.64,625.42 476.64,625.19" fill="#111"/>
<polygon points="483.99,623.35 484.84,625.19 486.84,625.42 485.36,626.79 485.75,628.78 483.99,627.79 482.23,628.78 482.62,626.79 481.14,625.42 483.14,625.19" fill="#111"/>
<rect x="495.62" y="612.50" width="29.76" height="27.30" fill="#b6d1df" stroke="#ffffff" stroke-width="0.8"/>
<polygon points="507.25,623.35 508.10,625.19 510.10,625.42 508.62,626.79 509.01,628.78 507.25,627.79 505.49,628.78 505.88,626.79 504.40,625.42 506.40,625.19" fill="#111"/>
<polygon points="513.75,623.35 514.60,625.19 516.60,625.42 515.12,626.79 515.51,628.78 513.75,627.79 511.99,628.78 512.38,626.79 510.90,625.42 512.90,625.19" fill="#111"/>
<rect x="525.38" y="612.50" width="29.76" height="27.30" fill="#b8d2df" stroke="#ffffff" stroke-width="0.8"/>
<polygon points="537.01,623.35 537.86,625.19 539.86,625.42 538.38,626.79 538.77,628.78 537.01,627.79 535.25,628.78 535.64,626.79 534.16,625.42 536.16,625.19" fill="#111"/>
<polygon points="543.51,623.35 544.36,625.19 546.36,625.42 544.88,626.79 545.27,628.78 543.51,627.79 541.75,628.78 542.14,626.79 540.66,625.42 542.66,625.19" fill="#111"/>
<rect x="555.14" y="612.50" width="29.76" height="27.30" fill="#a8c8d9" stroke="#ffffff" stroke-width="0.8"/>
<polygon points="566.77,623.35 567.62,625.19 569.62,625.42 568.14,626.79 568.53,628.78 566.77,627.79 565.01,628.78 565.40,626.79 563.92,625.42 565.92,625.19" fill="#111"/>
<polygon points="573.27,623.35 574.12,625.19 576.12,625.42 574.64,626.79 575.03,628.78 573.27,627.79 571.51,628.78 571.90,626.79 570.42,625.42 572.42,625.19" fill="#111"/>
<rect x="584.90" y="612.50" width="29.76" height="27.30" fill="#b6d1df" stroke="#ffffff" stroke-width="0.8"/>
<polygon points="596.53,623.35 597.38,625.19 599.38,625.42 597.90,626.79 598.29,628.78 596.53,627.79 594.77,628.78 595.16,626.79 593.68,625.42 595.68,625.19" fill="#111"/>
<polygon points="603.03,623.35 603.88,625.19 605.88,625.42 604.40,626.79 604.79,628.78 603.03,627.79 601.27,628.78 601.66,626.79 600.18,625.42 602.18,625.19" fill="#111"/>
<rect x="614.66" y="612.50" width="29.76" height="27.30" fill="#f5a68c" stroke="#ffffff" stroke-width="0.8"/>
<polygon points="626.29,623.35 627.14,625.19 629.14,625.42 627.66,626.79 628.05,628.78 626.29,627.79 624.53,628.78 624.92,626.79 623.44,625.42 625.44,625.19" fill="#111"/>
<polygon points="632.79,623.35 633.64,625.19 635.64,625.42 634.16,626.79 634.55,628.78 632.79,627.79 631.03,628.78 631.42,626.79 629.94,625.42 631.94,625.19" fill="#111"/>
<rect x="644.42" y="612.50" width="29.76" height="27.30" fill="#f8b09a" stroke="#ffffff" stroke-width="0.8"/>
<polygon points="659.30,623.35 660.15,625.19 662.15,625.42 660.67,626.79 661.06,628.78 659.30,627.79 657.54,628.78 657.93,626.79 656.45,625.42 658.45,625.19" fill="#111"/>
<text x="685.10" y="570.60" font-size="11.6" text-anchor="middle" fill="#111111" transform="rotate(-90 685.10 570.60)">BUN</text>
<text x="685.10" y="599.00" font-size="11.6" text-anchor="middle" fill="#111111" transform="rotate(-90 685.10 599.00)">Cr</text>
<text x="685.10" y="626.20" font-size="11.6" text-anchor="middle" fill="#111111" transform="rotate(-90 685.10 626.20)">GFR</text>
<path d="M287.3,571.5 H284.7 V598.8 H287.3 M284.7,585.2 H274.5 V626.2 H287.3" fill="none" stroke="#333" stroke-width="0.9"/>
<path d="M500.4,554.3 V539.0 H644.3 V554.6" fill="none" stroke="#555" stroke-width="0.9"/>
<path d="M301.2,554.6 H599.4 V557.0 M629.2,557.0 V554.6 H659.0 V557.0" fill="none" stroke="#333" stroke-width="1.0"/>
<path d="M317,554.9 H332 M421,555.0 H451 M479,554.4 H495.5 M560,554.2 H578" fill="none" stroke="#111" stroke-width="1.5"/>
<text x="306.90" y="642.00" font-size="12.0" text-anchor="end" fill="#111111" transform="rotate(-90 306.90 642.00)">Eicosenoic acid</text>
<text x="336.10" y="642.00" font-size="12.0" text-anchor="end" fill="#111111" transform="rotate(-90 336.10 642.00)">MG(0:0/16:0/0:0)</text>
<text x="366.40" y="642.00" font-size="12.0" text-anchor="end" fill="#111111" transform="rotate(-90 366.40 642.00)">MG(16:0/0:0/0:0)</text>
<text x="395.10" y="642.00" font-size="12.0" text-anchor="end" fill="#111111" transform="rotate(-90 395.10 642.00)">Androsterone</text>
<text x="424.20" y="642.00" font-size="12.0" text-anchor="end" fill="#111111" transform="rotate(-90 424.20 642.00)">Linoleic acid</text>
<text x="456.10" y="642.00" font-size="12.0" text-anchor="end" fill="#111111" transform="rotate(-90 456.10 642.00)">Oleic acid</text>
<text x="486.70" y="642.00" font-size="12.0" text-anchor="end" fill="#111111" transform="rotate(-90 486.70 642.00)">Palmitoleic acid</text>
<text x="514.90" y="642.00" font-size="11.8" text-anchor="end" font-weight="bold" fill="#111111" transform="rotate(-90 514.90 642.00)">Myristic acid</text>
<text x="544.70" y="642.00" font-size="11.8" text-anchor="end" font-weight="bold" fill="#111111" transform="rotate(-90 544.70 642.00)">3&#8722;Hydroxybutyric acid</text>
<text x="573.00" y="642.00" font-size="11.8" text-anchor="end" font-weight="bold" fill="#111111" transform="rotate(-90 573.00 642.00)">Creatine</text>
<text x="596.80" y="642.00" font-size="11.8" text-anchor="end" font-weight="bold" fill="#111111" transform="rotate(-90 596.80 642.00)">3&#8722;Hydroxymethylglutaric</text>
<text x="609.70" y="642.00" font-size="12.0" text-anchor="end" font-weight="bold" fill="#111111" transform="rotate(-90 609.70 642.00)">acid</text>
<text x="632.60" y="642.00" font-size="12.0" text-anchor="end" fill="#111111" transform="rotate(-90 632.60 642.00)">Galacturonic acid</text>
<text x="662.40" y="642.00" font-size="11.8" text-anchor="end" font-weight="bold" fill="#111111" transform="rotate(-90 662.40 642.00)">Inosine</text>
</svg>
</body></html>
